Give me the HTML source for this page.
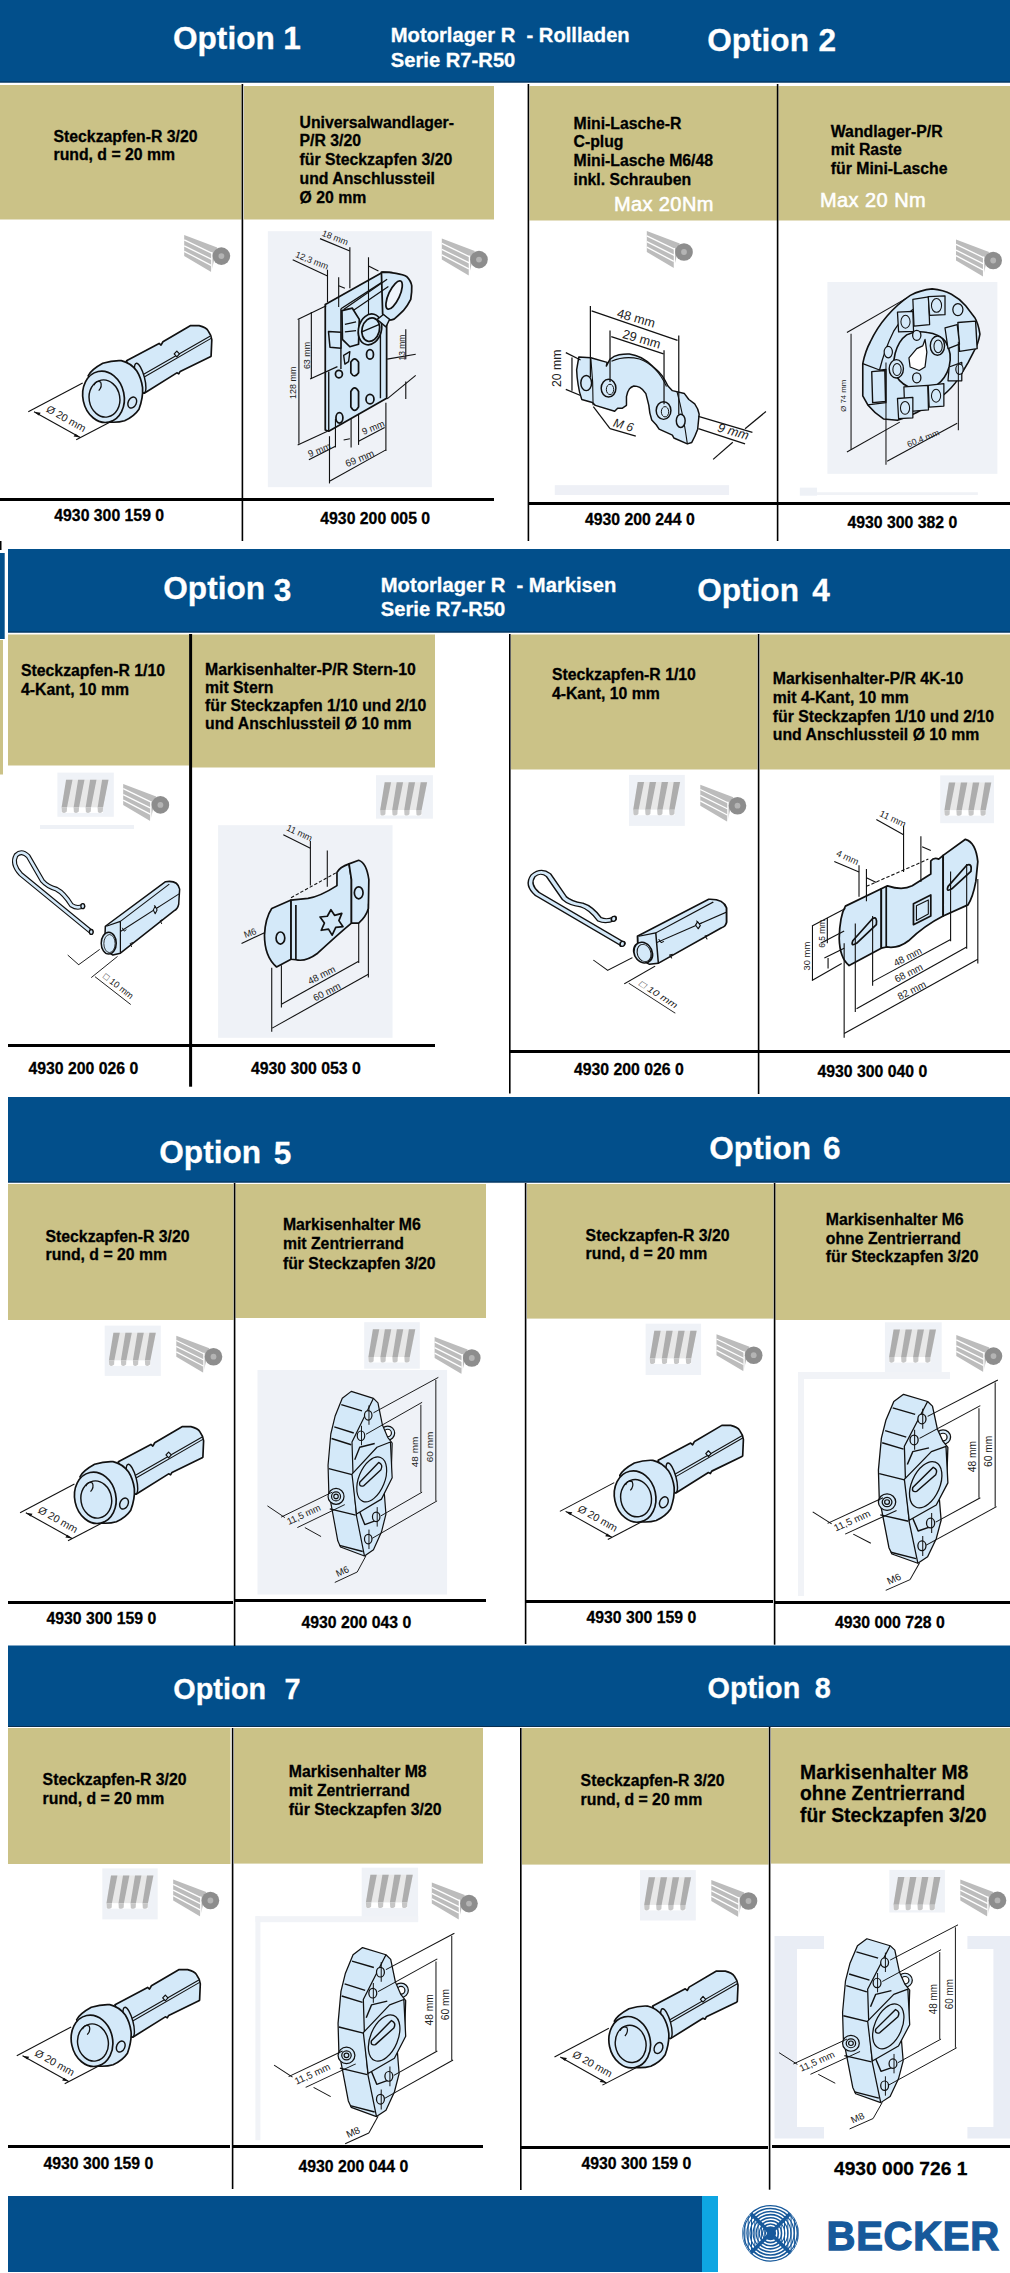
<!DOCTYPE html>
<html><head><meta charset="utf-8"><title>Motorlager R</title>
<style>
html,body{margin:0;padding:0;background:#fff;}
body{width:1010px;height:2273px;overflow:hidden;font-family:"Liberation Sans",sans-serif;}
svg{display:block;}
</style></head><body>
<svg width="1010" height="2273" viewBox="0 0 1010 2273">
<rect x="0" y="0" width="1010" height="2273" fill="#fff"/>
<rect x="0" y="0" width="1010" height="82.5" fill="#024f8b" />
<rect x="0" y="81.5" width="1010" height="1" fill="#072f52" />
<rect x="8" y="549" width="1002" height="83.5" fill="#024f8b" />
<rect x="8" y="631.5" width="1002" height="1" fill="#072f52" />
<rect x="0" y="553" width="4.7" height="86" fill="#024f8b" />
<rect x="0" y="541" width="1.5" height="9" fill="#000" />
<rect x="8" y="1097" width="1002" height="85.5" fill="#024f8b" />
<rect x="8" y="1181.5" width="1002" height="1" fill="#072f52" />
<rect x="8" y="1645.5" width="1002" height="81.5" fill="#024f8b" />
<rect x="8" y="1726.0" width="1002" height="1" fill="#072f52" />
<rect x="8" y="2196" width="694" height="76" fill="#034f8c" />
<rect x="702" y="2196" width="16" height="76" fill="#0ea6e2" />
<rect x="0" y="85" width="241.5" height="134.5" fill="#cbc287" />
<rect x="244" y="86" width="250" height="133.5" fill="#cbc287" />
<rect x="529.5" y="86" width="247.5" height="134.5" fill="#cbc287" />
<rect x="778.5" y="86" width="231.5" height="134.5" fill="#cbc287" />
<rect x="8" y="634.5" width="181" height="131.0" fill="#cbc287" />
<rect x="192" y="634.5" width="243" height="133.0" fill="#cbc287" />
<rect x="0" y="640" width="3" height="134.5" fill="#cbc287" />
<rect x="511" y="634.5" width="246.5" height="135.0" fill="#cbc287" />
<rect x="760" y="634.5" width="250" height="135.0" fill="#cbc287" />
<rect x="8" y="1184" width="225.5" height="136" fill="#cbc287" />
<rect x="235.5" y="1184" width="250.5" height="134" fill="#cbc287" />
<rect x="527" y="1184" width="246.5" height="134.5999999999999" fill="#cbc287" />
<rect x="775.5" y="1184" width="234.5" height="136" fill="#cbc287" />
<rect x="8" y="1728" width="222.5" height="136" fill="#cbc287" />
<rect x="234" y="1728" width="249" height="135.5999999999999" fill="#cbc287" />
<rect x="522" y="1728" width="246.5" height="136.5999999999999" fill="#cbc287" />
<rect x="771" y="1728" width="239" height="135.5999999999999" fill="#cbc287" />
<rect x="241.6" y="84" width="1.6" height="457" fill="#000" />
<rect x="527.6" y="84" width="1.6" height="457" fill="#000" />
<rect x="776.8000000000001" y="84" width="1.6" height="457" fill="#000" />
<rect x="0" y="498" width="494" height="3" fill="#000" />
<rect x="528" y="502" width="482" height="3" fill="#000" />
<rect x="189.1" y="634" width="3" height="452.70000000000005" fill="#000" />
<rect x="509.0" y="634" width="1.6" height="459.5" fill="#000" />
<rect x="757.8000000000001" y="634" width="1.6" height="460" fill="#000" />
<rect x="8" y="1044" width="427" height="3" fill="#000" />
<rect x="509.5" y="1050" width="500.5" height="3" fill="#000" />
<rect x="233.79999999999998" y="1183" width="1.6" height="463" fill="#000" />
<rect x="524.8000000000001" y="1183" width="1.6" height="461" fill="#000" />
<rect x="773.8000000000001" y="1183" width="1.6" height="461.70000000000005" fill="#000" />
<rect x="8" y="1601" width="225" height="3" fill="#000" />
<rect x="235" y="1599" width="251" height="3" fill="#000" />
<rect x="525.5" y="1600" width="247.5" height="3" fill="#000" />
<rect x="775" y="1601" width="235" height="3" fill="#000" />
<rect x="231.79999999999998" y="1728" width="1.6" height="461" fill="#000" />
<rect x="520.0" y="1728" width="1.6" height="462" fill="#000" />
<rect x="768.8000000000001" y="1727" width="1.6" height="462.6999999999998" fill="#000" />
<rect x="8" y="2145" width="222" height="3" fill="#000" />
<rect x="233" y="2145" width="250" height="3" fill="#000" />
<rect x="520.7" y="2146" width="247.29999999999995" height="3" fill="#000" />
<rect x="772" y="2145" width="238" height="3" fill="#000" />
<text x="173" y="48.8" font-family="Liberation Sans, sans-serif" font-size="31.6" font-weight="bold" fill="#ffffff" stroke="#ffffff" stroke-width="0.28" >Option</text>
<text x="283.3" y="48.8" font-family="Liberation Sans, sans-serif" font-size="31.6" font-weight="bold" fill="#ffffff" stroke="#ffffff" stroke-width="0.28" >1</text>
<text x="707.2" y="50.6" font-family="Liberation Sans, sans-serif" font-size="31.6" font-weight="bold" fill="#ffffff" stroke="#ffffff" stroke-width="0.28" >Option</text>
<text x="818.5" y="50.6" font-family="Liberation Sans, sans-serif" font-size="31.6" font-weight="bold" fill="#ffffff" stroke="#ffffff" stroke-width="0.28" >2</text>
<text x="163.3" y="599.3" font-family="Liberation Sans, sans-serif" font-size="31.6" font-weight="bold" fill="#ffffff" stroke="#ffffff" stroke-width="0.28" >Option</text>
<text x="273.7" y="600.5" font-family="Liberation Sans, sans-serif" font-size="31.6" font-weight="bold" fill="#ffffff" stroke="#ffffff" stroke-width="0.28" >3</text>
<text x="697.2" y="600.6" font-family="Liberation Sans, sans-serif" font-size="31.6" font-weight="bold" fill="#ffffff" stroke="#ffffff" stroke-width="0.28" >Option</text>
<text x="812.3" y="600.6" font-family="Liberation Sans, sans-serif" font-size="31.6" font-weight="bold" fill="#ffffff" stroke="#ffffff" stroke-width="0.28" >4</text>
<text x="159.3" y="1162.7" font-family="Liberation Sans, sans-serif" font-size="31.6" font-weight="bold" fill="#ffffff" stroke="#ffffff" stroke-width="0.28" >Option</text>
<text x="273.7" y="1163.8" font-family="Liberation Sans, sans-serif" font-size="31.6" font-weight="bold" fill="#ffffff" stroke="#ffffff" stroke-width="0.28" >5</text>
<text x="709.3" y="1158.5" font-family="Liberation Sans, sans-serif" font-size="31.6" font-weight="bold" fill="#ffffff" stroke="#ffffff" stroke-width="0.28" >Option</text>
<text x="822.9" y="1158.8" font-family="Liberation Sans, sans-serif" font-size="31.6" font-weight="bold" fill="#ffffff" stroke="#ffffff" stroke-width="0.28" >6</text>
<text x="173.3" y="1698.5" font-family="Liberation Sans, sans-serif" font-size="28.8" font-weight="bold" fill="#ffffff" stroke="#ffffff" stroke-width="0.28" >Option</text>
<text x="284.5" y="1698.5" font-family="Liberation Sans, sans-serif" font-size="28.8" font-weight="bold" fill="#ffffff" stroke="#ffffff" stroke-width="0.28" >7</text>
<text x="707.5" y="1698" font-family="Liberation Sans, sans-serif" font-size="28.8" font-weight="bold" fill="#ffffff" stroke="#ffffff" stroke-width="0.28" >Option</text>
<text x="814.7" y="1698" font-family="Liberation Sans, sans-serif" font-size="28.8" font-weight="bold" fill="#ffffff" stroke="#ffffff" stroke-width="0.28" >8</text>
<text x="390.8" y="42.0" font-family="Liberation Sans, sans-serif" font-size="20.2" font-weight="bold" fill="#ffffff" stroke="#ffffff" stroke-width="0.28" >Motorlager R &#160;- Rollladen</text>
<text x="390.8" y="66.5" font-family="Liberation Sans, sans-serif" font-size="20.2" font-weight="bold" fill="#ffffff" stroke="#ffffff" stroke-width="0.28" >Serie R7-R50</text>
<text x="380.8" y="592" font-family="Liberation Sans, sans-serif" font-size="20.2" font-weight="bold" fill="#ffffff" stroke="#ffffff" stroke-width="0.28" >Motorlager R &#160;- Markisen</text>
<text x="380.8" y="616" font-family="Liberation Sans, sans-serif" font-size="20.2" font-weight="bold" fill="#ffffff" stroke="#ffffff" stroke-width="0.28" >Serie R7-R50</text>
<text x="53.5" y="141.8" font-family="Liberation Sans, sans-serif" font-size="15.8" font-weight="bold" fill="#000" stroke="#000" stroke-width="0.28" >Steckzapfen-R 3/20</text>
<text x="53.5" y="160.3" font-family="Liberation Sans, sans-serif" font-size="15.8" font-weight="bold" fill="#000" stroke="#000" stroke-width="0.28" >rund, d = 20 mm</text>
<text x="299.5" y="127.6" font-family="Liberation Sans, sans-serif" font-size="15.8" font-weight="bold" fill="#000" stroke="#000" stroke-width="0.28" >Universalwandlager-</text>
<text x="299.5" y="146.4" font-family="Liberation Sans, sans-serif" font-size="15.8" font-weight="bold" fill="#000" stroke="#000" stroke-width="0.28" >P/R 3/20</text>
<text x="299.5" y="165.2" font-family="Liberation Sans, sans-serif" font-size="15.8" font-weight="bold" fill="#000" stroke="#000" stroke-width="0.28" >für Steckzapfen 3/20</text>
<text x="299.5" y="184.0" font-family="Liberation Sans, sans-serif" font-size="15.8" font-weight="bold" fill="#000" stroke="#000" stroke-width="0.28" >und Anschlussteil</text>
<text x="299.5" y="202.8" font-family="Liberation Sans, sans-serif" font-size="15.8" font-weight="bold" fill="#000" stroke="#000" stroke-width="0.28" >Ø 20 mm</text>
<text x="573.5" y="128.6" font-family="Liberation Sans, sans-serif" font-size="15.8" font-weight="bold" fill="#000" stroke="#000" stroke-width="0.28" >Mini-Lasche-R</text>
<text x="573.5" y="147.4" font-family="Liberation Sans, sans-serif" font-size="15.8" font-weight="bold" fill="#000" stroke="#000" stroke-width="0.28" >C-plug</text>
<text x="573.5" y="166.2" font-family="Liberation Sans, sans-serif" font-size="15.8" font-weight="bold" fill="#000" stroke="#000" stroke-width="0.28" >Mini-Lasche M6/48</text>
<text x="573.5" y="185.0" font-family="Liberation Sans, sans-serif" font-size="15.8" font-weight="bold" fill="#000" stroke="#000" stroke-width="0.28" >inkl. Schrauben</text>
<text x="613.9" y="210.9" font-family="Liberation Sans, sans-serif" font-size="20" font-weight="normal" fill="#ffffff"  letter-spacing="0.4" stroke="#fff" stroke-width="0.55">Max 20Nm</text>
<text x="830.8" y="136.5" font-family="Liberation Sans, sans-serif" font-size="15.8" font-weight="bold" fill="#000" stroke="#000" stroke-width="0.28" >Wandlager-P/R</text>
<text x="830.8" y="155.35" font-family="Liberation Sans, sans-serif" font-size="15.8" font-weight="bold" fill="#000" stroke="#000" stroke-width="0.28" >mit Raste</text>
<text x="830.8" y="174.2" font-family="Liberation Sans, sans-serif" font-size="15.8" font-weight="bold" fill="#000" stroke="#000" stroke-width="0.28" >für Mini-Lasche</text>
<text x="819.9" y="206.6" font-family="Liberation Sans, sans-serif" font-size="20" font-weight="normal" fill="#ffffff"  letter-spacing="0.45" stroke="#fff" stroke-width="0.55">Max 20 Nm</text>
<text x="21" y="675.8" font-family="Liberation Sans, sans-serif" font-size="15.8" font-weight="bold" fill="#000" stroke="#000" stroke-width="0.28" >Steckzapfen-R 1/10</text>
<text x="21" y="694.5" font-family="Liberation Sans, sans-serif" font-size="15.8" font-weight="bold" fill="#000" stroke="#000" stroke-width="0.28" >4-Kant, 10 mm</text>
<text x="205" y="675.3" font-family="Liberation Sans, sans-serif" font-size="15.8" font-weight="bold" fill="#000" stroke="#000" stroke-width="0.28" >Markisenhalter-P/R Stern-10</text>
<text x="205" y="693.3" font-family="Liberation Sans, sans-serif" font-size="15.8" font-weight="bold" fill="#000" stroke="#000" stroke-width="0.28" >mit Stern</text>
<text x="205" y="711.3" font-family="Liberation Sans, sans-serif" font-size="15.8" font-weight="bold" fill="#000" stroke="#000" stroke-width="0.28" >für Steckzapfen 1/10 und 2/10</text>
<text x="205" y="729.3" font-family="Liberation Sans, sans-serif" font-size="15.8" font-weight="bold" fill="#000" stroke="#000" stroke-width="0.28" >und Anschlussteil Ø 10 mm</text>
<text x="551.9" y="680.0" font-family="Liberation Sans, sans-serif" font-size="15.8" font-weight="bold" fill="#000" stroke="#000" stroke-width="0.28" >Steckzapfen-R 1/10</text>
<text x="551.9" y="699.0" font-family="Liberation Sans, sans-serif" font-size="15.8" font-weight="bold" fill="#000" stroke="#000" stroke-width="0.28" >4-Kant, 10 mm</text>
<text x="772.8" y="684.3" font-family="Liberation Sans, sans-serif" font-size="15.8" font-weight="bold" fill="#000" stroke="#000" stroke-width="0.28" >Markisenhalter-P/R 4K-10</text>
<text x="772.8" y="703.0" font-family="Liberation Sans, sans-serif" font-size="15.8" font-weight="bold" fill="#000" stroke="#000" stroke-width="0.28" >mit 4-Kant, 10 mm</text>
<text x="772.8" y="721.7" font-family="Liberation Sans, sans-serif" font-size="15.8" font-weight="bold" fill="#000" stroke="#000" stroke-width="0.28" >für Steckzapfen 1/10 und 2/10</text>
<text x="772.8" y="740.4" font-family="Liberation Sans, sans-serif" font-size="15.8" font-weight="bold" fill="#000" stroke="#000" stroke-width="0.28" >und Anschlussteil Ø 10 mm</text>
<text x="45.5" y="1241.5" font-family="Liberation Sans, sans-serif" font-size="15.8" font-weight="bold" fill="#000" stroke="#000" stroke-width="0.28" >Steckzapfen-R 3/20</text>
<text x="45.5" y="1260.4" font-family="Liberation Sans, sans-serif" font-size="15.8" font-weight="bold" fill="#000" stroke="#000" stroke-width="0.28" >rund, d = 20 mm</text>
<text x="282.9" y="1230.3" font-family="Liberation Sans, sans-serif" font-size="15.8" font-weight="bold" fill="#000" stroke="#000" stroke-width="0.28" >Markisenhalter M6</text>
<text x="282.9" y="1249.45" font-family="Liberation Sans, sans-serif" font-size="15.8" font-weight="bold" fill="#000" stroke="#000" stroke-width="0.28" >mit Zentrierrand</text>
<text x="282.9" y="1268.6" font-family="Liberation Sans, sans-serif" font-size="15.8" font-weight="bold" fill="#000" stroke="#000" stroke-width="0.28" >für Steckzapfen 3/20</text>
<text x="585.6" y="1240.6" font-family="Liberation Sans, sans-serif" font-size="15.8" font-weight="bold" fill="#000" stroke="#000" stroke-width="0.28" >Steckzapfen-R 3/20</text>
<text x="585.6" y="1259.4" font-family="Liberation Sans, sans-serif" font-size="15.8" font-weight="bold" fill="#000" stroke="#000" stroke-width="0.28" >rund, d = 20 mm</text>
<text x="825.8" y="1225.0" font-family="Liberation Sans, sans-serif" font-size="15.8" font-weight="bold" fill="#000" stroke="#000" stroke-width="0.28" >Markisenhalter M6</text>
<text x="825.8" y="1243.6" font-family="Liberation Sans, sans-serif" font-size="15.8" font-weight="bold" fill="#000" stroke="#000" stroke-width="0.28" >ohne Zentrierrand</text>
<text x="825.8" y="1262.2" font-family="Liberation Sans, sans-serif" font-size="15.8" font-weight="bold" fill="#000" stroke="#000" stroke-width="0.28" >für Steckzapfen 3/20</text>
<text x="42.6" y="1785.0" font-family="Liberation Sans, sans-serif" font-size="15.8" font-weight="bold" fill="#000" stroke="#000" stroke-width="0.28" >Steckzapfen-R 3/20</text>
<text x="42.6" y="1804.0" font-family="Liberation Sans, sans-serif" font-size="15.8" font-weight="bold" fill="#000" stroke="#000" stroke-width="0.28" >rund, d = 20 mm</text>
<text x="288.8" y="1777.2" font-family="Liberation Sans, sans-serif" font-size="15.8" font-weight="bold" fill="#000" stroke="#000" stroke-width="0.28" >Markisenhalter M8</text>
<text x="288.8" y="1796.25" font-family="Liberation Sans, sans-serif" font-size="15.8" font-weight="bold" fill="#000" stroke="#000" stroke-width="0.28" >mit Zentrierrand</text>
<text x="288.8" y="1815.3" font-family="Liberation Sans, sans-serif" font-size="15.8" font-weight="bold" fill="#000" stroke="#000" stroke-width="0.28" >für Steckzapfen 3/20</text>
<text x="580.6" y="1786.1" font-family="Liberation Sans, sans-serif" font-size="15.8" font-weight="bold" fill="#000" stroke="#000" stroke-width="0.28" >Steckzapfen-R 3/20</text>
<text x="580.6" y="1804.8" font-family="Liberation Sans, sans-serif" font-size="15.8" font-weight="bold" fill="#000" stroke="#000" stroke-width="0.28" >rund, d = 20 mm</text>
<text x="800.1" y="1778.6" font-family="Liberation Sans, sans-serif" font-size="19.3" font-weight="bold" fill="#000" stroke="#000" stroke-width="0.28" >Markisenhalter M8</text>
<text x="800.1" y="1800.35" font-family="Liberation Sans, sans-serif" font-size="19.3" font-weight="bold" fill="#000" stroke="#000" stroke-width="0.28" >ohne Zentrierrand</text>
<text x="800.1" y="1822.1" font-family="Liberation Sans, sans-serif" font-size="19.3" font-weight="bold" fill="#000" stroke="#000" stroke-width="0.28" >für Steckzapfen 3/20</text>
<text x="54.3" y="520.6" font-family="Liberation Sans, sans-serif" font-size="15.8" font-weight="bold" fill="#000" stroke="#000" stroke-width="0.28" >4930 300 159 0</text>
<text x="320.3" y="523.5" font-family="Liberation Sans, sans-serif" font-size="15.8" font-weight="bold" fill="#000" stroke="#000" stroke-width="0.28" >4930 200 005 0</text>
<text x="585" y="525" font-family="Liberation Sans, sans-serif" font-size="15.8" font-weight="bold" fill="#000" stroke="#000" stroke-width="0.28" >4930 200 244 0</text>
<text x="847.5" y="527.5" font-family="Liberation Sans, sans-serif" font-size="15.8" font-weight="bold" fill="#000" stroke="#000" stroke-width="0.28" >4930 300 382 0</text>
<text x="28.5" y="1073.5" font-family="Liberation Sans, sans-serif" font-size="15.8" font-weight="bold" fill="#000" stroke="#000" stroke-width="0.28" >4930 200 026 0</text>
<text x="251" y="1073.5" font-family="Liberation Sans, sans-serif" font-size="15.8" font-weight="bold" fill="#000" stroke="#000" stroke-width="0.28" >4930 300 053 0</text>
<text x="574" y="1075" font-family="Liberation Sans, sans-serif" font-size="15.8" font-weight="bold" fill="#000" stroke="#000" stroke-width="0.28" >4930 200 026 0</text>
<text x="817.5" y="1076.5" font-family="Liberation Sans, sans-serif" font-size="15.8" font-weight="bold" fill="#000" stroke="#000" stroke-width="0.28" >4930 300 040 0</text>
<text x="46.5" y="1624" font-family="Liberation Sans, sans-serif" font-size="15.8" font-weight="bold" fill="#000" stroke="#000" stroke-width="0.28" >4930 300 159 0</text>
<text x="301.5" y="1627.5" font-family="Liberation Sans, sans-serif" font-size="15.8" font-weight="bold" fill="#000" stroke="#000" stroke-width="0.28" >4930 200 043 0</text>
<text x="586.5" y="1623" font-family="Liberation Sans, sans-serif" font-size="15.8" font-weight="bold" fill="#000" stroke="#000" stroke-width="0.28" >4930 300 159 0</text>
<text x="835" y="1627.5" font-family="Liberation Sans, sans-serif" font-size="15.8" font-weight="bold" fill="#000" stroke="#000" stroke-width="0.28" >4930 000 728 0</text>
<text x="43.5" y="2168.5" font-family="Liberation Sans, sans-serif" font-size="15.8" font-weight="bold" fill="#000" stroke="#000" stroke-width="0.28" >4930 300 159 0</text>
<text x="298.5" y="2171.5" font-family="Liberation Sans, sans-serif" font-size="15.8" font-weight="bold" fill="#000" stroke="#000" stroke-width="0.28" >4930 200 044 0</text>
<text x="581.5" y="2169" font-family="Liberation Sans, sans-serif" font-size="15.8" font-weight="bold" fill="#000" stroke="#000" stroke-width="0.28" >4930 300 159 0</text>
<text x="834" y="2175" font-family="Liberation Sans, sans-serif" font-size="19.2" font-weight="bold" fill="#000" stroke="#000" stroke-width="0.28" >4930 000 726 1</text>
<text x="826.5" y="2249.6" font-family="Liberation Sans, sans-serif" font-size="40" font-weight="bold" fill="#17599b"  stroke="#17599b" stroke-width="1.3" letter-spacing="0.75">BECKER</text>
<g transform="translate(184.2,235.1)">
<polygon points="0,0 33,12.5 27,37 0,21" fill="#bcbcbc"/>
<g stroke="#fff" stroke-width="1.3">
<line x1="0" y1="4.8" x2="28" y2="18.3"/><line x1="0" y1="10.7" x2="27.5" y2="24.3"/><line x1="0" y1="16.2" x2="27" y2="30.3"/>
<line x1="27.6" y1="17" x2="27.6" y2="38"/></g>
<circle cx="37.2" cy="21" r="8.8" fill="#8d8d8d"/><circle cx="37.2" cy="21" r="2.9" fill="#b4b4b4"/>
</g>
<g transform="translate(441.8,238.6)">
<polygon points="0,0 33,12.5 27,37 0,21" fill="#bcbcbc"/>
<g stroke="#fff" stroke-width="1.3">
<line x1="0" y1="4.8" x2="28" y2="18.3"/><line x1="0" y1="10.7" x2="27.5" y2="24.3"/><line x1="0" y1="16.2" x2="27" y2="30.3"/>
<line x1="27.6" y1="17" x2="27.6" y2="38"/></g>
<circle cx="37.2" cy="21" r="8.8" fill="#8d8d8d"/><circle cx="37.2" cy="21" r="2.9" fill="#b4b4b4"/>
</g>
<g transform="translate(646.8,231)">
<polygon points="0,0 33,12.5 27,37 0,21" fill="#bcbcbc"/>
<g stroke="#fff" stroke-width="1.3">
<line x1="0" y1="4.8" x2="28" y2="18.3"/><line x1="0" y1="10.7" x2="27.5" y2="24.3"/><line x1="0" y1="16.2" x2="27" y2="30.3"/>
<line x1="27.6" y1="17" x2="27.6" y2="38"/></g>
<circle cx="37.2" cy="21" r="8.8" fill="#8d8d8d"/><circle cx="37.2" cy="21" r="2.9" fill="#b4b4b4"/>
</g>
<g transform="translate(956,239.5)">
<polygon points="0,0 33,12.5 27,37 0,21" fill="#bcbcbc"/>
<g stroke="#fff" stroke-width="1.3">
<line x1="0" y1="4.8" x2="28" y2="18.3"/><line x1="0" y1="10.7" x2="27.5" y2="24.3"/><line x1="0" y1="16.2" x2="27" y2="30.3"/>
<line x1="27.6" y1="17" x2="27.6" y2="38"/></g>
<circle cx="37.2" cy="21" r="8.8" fill="#8d8d8d"/><circle cx="37.2" cy="21" r="2.9" fill="#b4b4b4"/>
</g>
<g transform="translate(123.2,783.9)">
<polygon points="0,0 33,12.5 27,37 0,21" fill="#bcbcbc"/>
<g stroke="#fff" stroke-width="1.3">
<line x1="0" y1="4.8" x2="28" y2="18.3"/><line x1="0" y1="10.7" x2="27.5" y2="24.3"/><line x1="0" y1="16.2" x2="27" y2="30.3"/>
<line x1="27.6" y1="17" x2="27.6" y2="38"/></g>
<circle cx="37.2" cy="21" r="8.8" fill="#8d8d8d"/><circle cx="37.2" cy="21" r="2.9" fill="#b4b4b4"/>
</g>
<g transform="translate(700.3,784.7)">
<polygon points="0,0 33,12.5 27,37 0,21" fill="#bcbcbc"/>
<g stroke="#fff" stroke-width="1.3">
<line x1="0" y1="4.8" x2="28" y2="18.3"/><line x1="0" y1="10.7" x2="27.5" y2="24.3"/><line x1="0" y1="16.2" x2="27" y2="30.3"/>
<line x1="27.6" y1="17" x2="27.6" y2="38"/></g>
<circle cx="37.2" cy="21" r="8.8" fill="#8d8d8d"/><circle cx="37.2" cy="21" r="2.9" fill="#b4b4b4"/>
</g>
<g transform="translate(176.3,1335.7)">
<polygon points="0,0 33,12.5 27,37 0,21" fill="#bcbcbc"/>
<g stroke="#fff" stroke-width="1.3">
<line x1="0" y1="4.8" x2="28" y2="18.3"/><line x1="0" y1="10.7" x2="27.5" y2="24.3"/><line x1="0" y1="16.2" x2="27" y2="30.3"/>
<line x1="27.6" y1="17" x2="27.6" y2="38"/></g>
<circle cx="37.2" cy="21" r="8.8" fill="#8d8d8d"/><circle cx="37.2" cy="21" r="2.9" fill="#b4b4b4"/>
</g>
<g transform="translate(434.6,1337)">
<polygon points="0,0 33,12.5 27,37 0,21" fill="#bcbcbc"/>
<g stroke="#fff" stroke-width="1.3">
<line x1="0" y1="4.8" x2="28" y2="18.3"/><line x1="0" y1="10.7" x2="27.5" y2="24.3"/><line x1="0" y1="16.2" x2="27" y2="30.3"/>
<line x1="27.6" y1="17" x2="27.6" y2="38"/></g>
<circle cx="37.2" cy="21" r="8.8" fill="#8d8d8d"/><circle cx="37.2" cy="21" r="2.9" fill="#b4b4b4"/>
</g>
<g transform="translate(716.5,1334.2)">
<polygon points="0,0 33,12.5 27,37 0,21" fill="#bcbcbc"/>
<g stroke="#fff" stroke-width="1.3">
<line x1="0" y1="4.8" x2="28" y2="18.3"/><line x1="0" y1="10.7" x2="27.5" y2="24.3"/><line x1="0" y1="16.2" x2="27" y2="30.3"/>
<line x1="27.6" y1="17" x2="27.6" y2="38"/></g>
<circle cx="37.2" cy="21" r="8.8" fill="#8d8d8d"/><circle cx="37.2" cy="21" r="2.9" fill="#b4b4b4"/>
</g>
<g transform="translate(956.3,1335.1)">
<polygon points="0,0 33,12.5 27,37 0,21" fill="#bcbcbc"/>
<g stroke="#fff" stroke-width="1.3">
<line x1="0" y1="4.8" x2="28" y2="18.3"/><line x1="0" y1="10.7" x2="27.5" y2="24.3"/><line x1="0" y1="16.2" x2="27" y2="30.3"/>
<line x1="27.6" y1="17" x2="27.6" y2="38"/></g>
<circle cx="37.2" cy="21" r="8.8" fill="#8d8d8d"/><circle cx="37.2" cy="21" r="2.9" fill="#b4b4b4"/>
</g>
<g transform="translate(173.2,1879.5)">
<polygon points="0,0 33,12.5 27,37 0,21" fill="#bcbcbc"/>
<g stroke="#fff" stroke-width="1.3">
<line x1="0" y1="4.8" x2="28" y2="18.3"/><line x1="0" y1="10.7" x2="27.5" y2="24.3"/><line x1="0" y1="16.2" x2="27" y2="30.3"/>
<line x1="27.6" y1="17" x2="27.6" y2="38"/></g>
<circle cx="37.2" cy="21" r="8.8" fill="#8d8d8d"/><circle cx="37.2" cy="21" r="2.9" fill="#b4b4b4"/>
</g>
<g transform="translate(431.8,1882.6)">
<polygon points="0,0 33,12.5 27,37 0,21" fill="#bcbcbc"/>
<g stroke="#fff" stroke-width="1.3">
<line x1="0" y1="4.8" x2="28" y2="18.3"/><line x1="0" y1="10.7" x2="27.5" y2="24.3"/><line x1="0" y1="16.2" x2="27" y2="30.3"/>
<line x1="27.6" y1="17" x2="27.6" y2="38"/></g>
<circle cx="37.2" cy="21" r="8.8" fill="#8d8d8d"/><circle cx="37.2" cy="21" r="2.9" fill="#b4b4b4"/>
</g>
<g transform="translate(711.3,1880)">
<polygon points="0,0 33,12.5 27,37 0,21" fill="#bcbcbc"/>
<g stroke="#fff" stroke-width="1.3">
<line x1="0" y1="4.8" x2="28" y2="18.3"/><line x1="0" y1="10.7" x2="27.5" y2="24.3"/><line x1="0" y1="16.2" x2="27" y2="30.3"/>
<line x1="27.6" y1="17" x2="27.6" y2="38"/></g>
<circle cx="37.2" cy="21" r="8.8" fill="#8d8d8d"/><circle cx="37.2" cy="21" r="2.9" fill="#b4b4b4"/>
</g>
<g transform="translate(960.3,1879.4)">
<polygon points="0,0 33,12.5 27,37 0,21" fill="#bcbcbc"/>
<g stroke="#fff" stroke-width="1.3">
<line x1="0" y1="4.8" x2="28" y2="18.3"/><line x1="0" y1="10.7" x2="27.5" y2="24.3"/><line x1="0" y1="16.2" x2="27" y2="30.3"/>
<line x1="27.6" y1="17" x2="27.6" y2="38"/></g>
<circle cx="37.2" cy="21" r="8.8" fill="#8d8d8d"/><circle cx="37.2" cy="21" r="2.9" fill="#b4b4b4"/>
</g>
<g transform="translate(57.4,772.6)"><rect x="0" y="0" width="56.4" height="44.2" fill="#eff2f7"/><polygon points="8.7,7.1 51.1,7.1 45.6,34.8 4.2,34.8" fill="#e8e8e8"/><rect x="4.2" y="34.8" width="41.4" height="5.5" fill="#fff"/><polygon points="8.7,7.1 15.1,7.1 9.6,34.8 4.2,34.8" fill="#adadad"/><path d="M4.2,34.8 L9.6,34.8 L9.4,39 Q7,41.5 4.5,39.5 Z" fill="#c6c6c6"/><polygon points="20.7,7.1 27.1,7.1 21.6,34.8 16.2,34.8" fill="#adadad"/><path d="M16.2,34.8 L21.6,34.8 L21.4,39 Q19,41.5 16.5,39.5 Z" fill="#c6c6c6"/><polygon points="32.7,7.1 39.1,7.1 33.6,34.8 28.2,34.8" fill="#adadad"/><path d="M28.2,34.8 L33.6,34.8 L33.4,39 Q31,41.5 28.5,39.5 Z" fill="#c6c6c6"/><polygon points="44.7,7.1 51.1,7.1 45.6,34.8 40.2,34.8" fill="#adadad"/><path d="M40.2,34.8 L45.6,34.8 L45.4,39 Q43,41.5 40.5,39.5 Z" fill="#c6c6c6"/></g>
<g transform="translate(376,775.2)"><rect x="0" y="0" width="56.9" height="43.5" fill="#eff2f7"/><polygon points="8.7,7.1 51.1,7.1 45.6,34.8 4.2,34.8" fill="#e8e8e8"/><rect x="4.2" y="34.8" width="41.4" height="5.5" fill="#fff"/><polygon points="8.7,7.1 15.1,7.1 9.6,34.8 4.2,34.8" fill="#adadad"/><path d="M4.2,34.8 L9.6,34.8 L9.4,39 Q7,41.5 4.5,39.5 Z" fill="#c6c6c6"/><polygon points="20.7,7.1 27.1,7.1 21.6,34.8 16.2,34.8" fill="#adadad"/><path d="M16.2,34.8 L21.6,34.8 L21.4,39 Q19,41.5 16.5,39.5 Z" fill="#c6c6c6"/><polygon points="32.7,7.1 39.1,7.1 33.6,34.8 28.2,34.8" fill="#adadad"/><path d="M28.2,34.8 L33.6,34.8 L33.4,39 Q31,41.5 28.5,39.5 Z" fill="#c6c6c6"/><polygon points="44.7,7.1 51.1,7.1 45.6,34.8 40.2,34.8" fill="#adadad"/><path d="M40.2,34.8 L45.6,34.8 L45.4,39 Q43,41.5 40.5,39.5 Z" fill="#c6c6c6"/></g>
<g transform="translate(629,774.9)"><rect x="0" y="0" width="55.8" height="51" fill="#eff2f7"/><polygon points="8.7,7.1 51.1,7.1 45.6,34.8 4.2,34.8" fill="#e8e8e8"/><rect x="4.2" y="34.8" width="41.4" height="5.5" fill="#fff"/><polygon points="8.7,7.1 15.1,7.1 9.6,34.8 4.2,34.8" fill="#adadad"/><path d="M4.2,34.8 L9.6,34.8 L9.4,39 Q7,41.5 4.5,39.5 Z" fill="#c6c6c6"/><polygon points="20.7,7.1 27.1,7.1 21.6,34.8 16.2,34.8" fill="#adadad"/><path d="M16.2,34.8 L21.6,34.8 L21.4,39 Q19,41.5 16.5,39.5 Z" fill="#c6c6c6"/><polygon points="32.7,7.1 39.1,7.1 33.6,34.8 28.2,34.8" fill="#adadad"/><path d="M28.2,34.8 L33.6,34.8 L33.4,39 Q31,41.5 28.5,39.5 Z" fill="#c6c6c6"/><polygon points="44.7,7.1 51.1,7.1 45.6,34.8 40.2,34.8" fill="#adadad"/><path d="M40.2,34.8 L45.6,34.8 L45.4,39 Q43,41.5 40.5,39.5 Z" fill="#c6c6c6"/></g>
<g transform="translate(940.2,775.4)"><rect x="0" y="0" width="53.8" height="47.8" fill="#eff2f7"/><polygon points="8.7,7.1 51.1,7.1 45.6,34.8 4.2,34.8" fill="#e8e8e8"/><rect x="4.2" y="34.8" width="41.4" height="5.5" fill="#fff"/><polygon points="8.7,7.1 15.1,7.1 9.6,34.8 4.2,34.8" fill="#adadad"/><path d="M4.2,34.8 L9.6,34.8 L9.4,39 Q7,41.5 4.5,39.5 Z" fill="#c6c6c6"/><polygon points="20.7,7.1 27.1,7.1 21.6,34.8 16.2,34.8" fill="#adadad"/><path d="M16.2,34.8 L21.6,34.8 L21.4,39 Q19,41.5 16.5,39.5 Z" fill="#c6c6c6"/><polygon points="32.7,7.1 39.1,7.1 33.6,34.8 28.2,34.8" fill="#adadad"/><path d="M28.2,34.8 L33.6,34.8 L33.4,39 Q31,41.5 28.5,39.5 Z" fill="#c6c6c6"/><polygon points="44.7,7.1 51.1,7.1 45.6,34.8 40.2,34.8" fill="#adadad"/><path d="M40.2,34.8 L45.6,34.8 L45.4,39 Q43,41.5 40.5,39.5 Z" fill="#c6c6c6"/></g>
<g transform="translate(104.7,1325.6)"><rect x="0" y="0" width="56.1" height="50.3" fill="#eff2f7"/><polygon points="8.7,7.1 51.1,7.1 45.6,34.8 4.2,34.8" fill="#e8e8e8"/><rect x="4.2" y="34.8" width="41.4" height="5.5" fill="#fff"/><polygon points="8.7,7.1 15.1,7.1 9.6,34.8 4.2,34.8" fill="#adadad"/><path d="M4.2,34.8 L9.6,34.8 L9.4,39 Q7,41.5 4.5,39.5 Z" fill="#c6c6c6"/><polygon points="20.7,7.1 27.1,7.1 21.6,34.8 16.2,34.8" fill="#adadad"/><path d="M16.2,34.8 L21.6,34.8 L21.4,39 Q19,41.5 16.5,39.5 Z" fill="#c6c6c6"/><polygon points="32.7,7.1 39.1,7.1 33.6,34.8 28.2,34.8" fill="#adadad"/><path d="M28.2,34.8 L33.6,34.8 L33.4,39 Q31,41.5 28.5,39.5 Z" fill="#c6c6c6"/><polygon points="44.7,7.1 51.1,7.1 45.6,34.8 40.2,34.8" fill="#adadad"/><path d="M40.2,34.8 L45.6,34.8 L45.4,39 Q43,41.5 40.5,39.5 Z" fill="#c6c6c6"/></g>
<g transform="translate(364.2,1322.2)"><rect x="0" y="0" width="55.6" height="46.5" fill="#eff2f7"/><polygon points="8.7,7.1 51.1,7.1 45.6,34.8 4.2,34.8" fill="#e8e8e8"/><rect x="4.2" y="34.8" width="41.4" height="5.5" fill="#fff"/><polygon points="8.7,7.1 15.1,7.1 9.6,34.8 4.2,34.8" fill="#adadad"/><path d="M4.2,34.8 L9.6,34.8 L9.4,39 Q7,41.5 4.5,39.5 Z" fill="#c6c6c6"/><polygon points="20.7,7.1 27.1,7.1 21.6,34.8 16.2,34.8" fill="#adadad"/><path d="M16.2,34.8 L21.6,34.8 L21.4,39 Q19,41.5 16.5,39.5 Z" fill="#c6c6c6"/><polygon points="32.7,7.1 39.1,7.1 33.6,34.8 28.2,34.8" fill="#adadad"/><path d="M28.2,34.8 L33.6,34.8 L33.4,39 Q31,41.5 28.5,39.5 Z" fill="#c6c6c6"/><polygon points="44.7,7.1 51.1,7.1 45.6,34.8 40.2,34.8" fill="#adadad"/><path d="M40.2,34.8 L45.6,34.8 L45.4,39 Q43,41.5 40.5,39.5 Z" fill="#c6c6c6"/></g>
<g transform="translate(645.6,1323.7)"><rect x="0" y="0" width="55.5" height="51.3" fill="#eff2f7"/><polygon points="8.7,7.1 51.1,7.1 45.6,34.8 4.2,34.8" fill="#e8e8e8"/><rect x="4.2" y="34.8" width="41.4" height="5.5" fill="#fff"/><polygon points="8.7,7.1 15.1,7.1 9.6,34.8 4.2,34.8" fill="#adadad"/><path d="M4.2,34.8 L9.6,34.8 L9.4,39 Q7,41.5 4.5,39.5 Z" fill="#c6c6c6"/><polygon points="20.7,7.1 27.1,7.1 21.6,34.8 16.2,34.8" fill="#adadad"/><path d="M16.2,34.8 L21.6,34.8 L21.4,39 Q19,41.5 16.5,39.5 Z" fill="#c6c6c6"/><polygon points="32.7,7.1 39.1,7.1 33.6,34.8 28.2,34.8" fill="#adadad"/><path d="M28.2,34.8 L33.6,34.8 L33.4,39 Q31,41.5 28.5,39.5 Z" fill="#c6c6c6"/><polygon points="44.7,7.1 51.1,7.1 45.6,34.8 40.2,34.8" fill="#adadad"/><path d="M40.2,34.8 L45.6,34.8 L45.4,39 Q43,41.5 40.5,39.5 Z" fill="#c6c6c6"/></g>
<g transform="translate(884.9,1322.3)"><rect x="0" y="0" width="56.8" height="51" fill="#eff2f7"/><polygon points="8.7,7.1 51.1,7.1 45.6,34.8 4.2,34.8" fill="#e8e8e8"/><rect x="4.2" y="34.8" width="41.4" height="5.5" fill="#fff"/><polygon points="8.7,7.1 15.1,7.1 9.6,34.8 4.2,34.8" fill="#adadad"/><path d="M4.2,34.8 L9.6,34.8 L9.4,39 Q7,41.5 4.5,39.5 Z" fill="#c6c6c6"/><polygon points="20.7,7.1 27.1,7.1 21.6,34.8 16.2,34.8" fill="#adadad"/><path d="M16.2,34.8 L21.6,34.8 L21.4,39 Q19,41.5 16.5,39.5 Z" fill="#c6c6c6"/><polygon points="32.7,7.1 39.1,7.1 33.6,34.8 28.2,34.8" fill="#adadad"/><path d="M28.2,34.8 L33.6,34.8 L33.4,39 Q31,41.5 28.5,39.5 Z" fill="#c6c6c6"/><polygon points="44.7,7.1 51.1,7.1 45.6,34.8 40.2,34.8" fill="#adadad"/><path d="M40.2,34.8 L45.6,34.8 L45.4,39 Q43,41.5 40.5,39.5 Z" fill="#c6c6c6"/></g>
<g transform="translate(102.3,1868.4)"><rect x="0" y="0" width="55.4" height="51" fill="#eff2f7"/><polygon points="8.7,7.1 51.1,7.1 45.6,34.8 4.2,34.8" fill="#e8e8e8"/><rect x="4.2" y="34.8" width="41.4" height="5.5" fill="#fff"/><polygon points="8.7,7.1 15.1,7.1 9.6,34.8 4.2,34.8" fill="#adadad"/><path d="M4.2,34.8 L9.6,34.8 L9.4,39 Q7,41.5 4.5,39.5 Z" fill="#c6c6c6"/><polygon points="20.7,7.1 27.1,7.1 21.6,34.8 16.2,34.8" fill="#adadad"/><path d="M16.2,34.8 L21.6,34.8 L21.4,39 Q19,41.5 16.5,39.5 Z" fill="#c6c6c6"/><polygon points="32.7,7.1 39.1,7.1 33.6,34.8 28.2,34.8" fill="#adadad"/><path d="M28.2,34.8 L33.6,34.8 L33.4,39 Q31,41.5 28.5,39.5 Z" fill="#c6c6c6"/><polygon points="44.7,7.1 51.1,7.1 45.6,34.8 40.2,34.8" fill="#adadad"/><path d="M40.2,34.8 L45.6,34.8 L45.4,39 Q43,41.5 40.5,39.5 Z" fill="#c6c6c6"/></g>
<g transform="translate(361.7,1867.7)"><rect x="0" y="0" width="56.4" height="53.5" fill="#eff2f7"/><polygon points="8.7,7.1 51.1,7.1 45.6,34.8 4.2,34.8" fill="#e8e8e8"/><rect x="4.2" y="34.8" width="41.4" height="5.5" fill="#fff"/><polygon points="8.7,7.1 15.1,7.1 9.6,34.8 4.2,34.8" fill="#adadad"/><path d="M4.2,34.8 L9.6,34.8 L9.4,39 Q7,41.5 4.5,39.5 Z" fill="#c6c6c6"/><polygon points="20.7,7.1 27.1,7.1 21.6,34.8 16.2,34.8" fill="#adadad"/><path d="M16.2,34.8 L21.6,34.8 L21.4,39 Q19,41.5 16.5,39.5 Z" fill="#c6c6c6"/><polygon points="32.7,7.1 39.1,7.1 33.6,34.8 28.2,34.8" fill="#adadad"/><path d="M28.2,34.8 L33.6,34.8 L33.4,39 Q31,41.5 28.5,39.5 Z" fill="#c6c6c6"/><polygon points="44.7,7.1 51.1,7.1 45.6,34.8 40.2,34.8" fill="#adadad"/><path d="M40.2,34.8 L45.6,34.8 L45.4,39 Q43,41.5 40.5,39.5 Z" fill="#c6c6c6"/></g>
<g transform="translate(640,1870.1)"><rect x="0" y="0" width="55.8" height="50.4" fill="#eff2f7"/><polygon points="8.7,7.1 51.1,7.1 45.6,34.8 4.2,34.8" fill="#e8e8e8"/><rect x="4.2" y="34.8" width="41.4" height="5.5" fill="#fff"/><polygon points="8.7,7.1 15.1,7.1 9.6,34.8 4.2,34.8" fill="#adadad"/><path d="M4.2,34.8 L9.6,34.8 L9.4,39 Q7,41.5 4.5,39.5 Z" fill="#c6c6c6"/><polygon points="20.7,7.1 27.1,7.1 21.6,34.8 16.2,34.8" fill="#adadad"/><path d="M16.2,34.8 L21.6,34.8 L21.4,39 Q19,41.5 16.5,39.5 Z" fill="#c6c6c6"/><polygon points="32.7,7.1 39.1,7.1 33.6,34.8 28.2,34.8" fill="#adadad"/><path d="M28.2,34.8 L33.6,34.8 L33.4,39 Q31,41.5 28.5,39.5 Z" fill="#c6c6c6"/><polygon points="44.7,7.1 51.1,7.1 45.6,34.8 40.2,34.8" fill="#adadad"/><path d="M40.2,34.8 L45.6,34.8 L45.4,39 Q43,41.5 40.5,39.5 Z" fill="#c6c6c6"/></g>
<g transform="translate(889.3,1869.9)"><rect x="0" y="0" width="55.6" height="42.6" fill="#eff2f7"/><polygon points="8.7,7.1 51.1,7.1 45.6,34.8 4.2,34.8" fill="#e8e8e8"/><rect x="4.2" y="34.8" width="41.4" height="5.5" fill="#fff"/><polygon points="8.7,7.1 15.1,7.1 9.6,34.8 4.2,34.8" fill="#adadad"/><path d="M4.2,34.8 L9.6,34.8 L9.4,39 Q7,41.5 4.5,39.5 Z" fill="#c6c6c6"/><polygon points="20.7,7.1 27.1,7.1 21.6,34.8 16.2,34.8" fill="#adadad"/><path d="M16.2,34.8 L21.6,34.8 L21.4,39 Q19,41.5 16.5,39.5 Z" fill="#c6c6c6"/><polygon points="32.7,7.1 39.1,7.1 33.6,34.8 28.2,34.8" fill="#adadad"/><path d="M28.2,34.8 L33.6,34.8 L33.4,39 Q31,41.5 28.5,39.5 Z" fill="#c6c6c6"/><polygon points="44.7,7.1 51.1,7.1 45.6,34.8 40.2,34.8" fill="#adadad"/><path d="M40.2,34.8 L45.6,34.8 L45.4,39 Q43,41.5 40.5,39.5 Z" fill="#c6c6c6"/></g>
<g transform="translate(0,220) scale(0.23960)">
<g stroke="#111" stroke-width="7" stroke-linejoin="round" fill="#d4e9f9">
<path d="M528,587 L664,515 L672,522 L680,508 L794,441 L831,441 Q860,448 869,463 Q882,480 884,500 L881,568 L878,571 L752,632 L746,642 L738,638 L602,723 L560,700 Z"/>
<path d="M596,646 L878,484 M602,655 L881,494" fill="none" stroke-width="4.5"/>
<path d="M727,559 l11,-12 l11,12 l-11,12 Z" stroke-width="5"/>
<ellipse cx="585" cy="660" rx="18" ry="64" transform="rotate(-15 585 660)" stroke-width="6"/>
<path d="M368,650 Q380,625 429,598 Q470,585 506,587 Q545,596 571,630 Q590,660 595,700 Q598,740 580,790 Q560,820 520,838 Q490,847 451,843 Z"/>
<ellipse cx="432" cy="738" rx="86" ry="108" transform="rotate(-12 432 738)"/>
<ellipse cx="436" cy="745" rx="64" ry="78" transform="rotate(-10 436 745)" stroke-width="6"/>
<path d="M392,690 Q400,668 420,676 Q428,695 412,712" fill="none" stroke-width="5"/>
<ellipse cx="552" cy="762" rx="17" ry="24" transform="rotate(25 552 762)" stroke-width="6"/>
</g>
<g stroke="#111" stroke-width="4.5" fill="none">
<line x1="118" y1="800" x2="345" y2="680"/>
<line x1="318" y1="917" x2="470" y2="838"/>
<line x1="142" y1="800" x2="335" y2="908"/>
</g>
<path d="M142,800 l28,4 l-8,12 Z M335,908 l-28,-4 l8,-12 Z" fill="#111"/>
<text x="0" y="0" font-family="Liberation Sans, sans-serif" font-size="44" fill="#222" transform="translate(190,798) rotate(29)">Ø 20 mm</text>
</g>
<g transform="translate(-8.2,1321) scale(0.23960)">
<g stroke="#111" stroke-width="7" stroke-linejoin="round" fill="#d4e9f9">
<path d="M528,587 L664,515 L672,522 L680,508 L794,441 L831,441 Q860,448 869,463 Q882,480 884,500 L881,568 L878,571 L752,632 L746,642 L738,638 L602,723 L560,700 Z"/>
<path d="M596,646 L878,484 M602,655 L881,494" fill="none" stroke-width="4.5"/>
<path d="M727,559 l11,-12 l11,12 l-11,12 Z" stroke-width="5"/>
<ellipse cx="585" cy="660" rx="18" ry="64" transform="rotate(-15 585 660)" stroke-width="6"/>
<path d="M368,650 Q380,625 429,598 Q470,585 506,587 Q545,596 571,630 Q590,660 595,700 Q598,740 580,790 Q560,820 520,838 Q490,847 451,843 Z"/>
<ellipse cx="432" cy="738" rx="86" ry="108" transform="rotate(-12 432 738)"/>
<ellipse cx="436" cy="745" rx="64" ry="78" transform="rotate(-10 436 745)" stroke-width="6"/>
<path d="M392,690 Q400,668 420,676 Q428,695 412,712" fill="none" stroke-width="5"/>
<ellipse cx="552" cy="762" rx="17" ry="24" transform="rotate(25 552 762)" stroke-width="6"/>
</g>
<g stroke="#111" stroke-width="4.5" fill="none">
<line x1="118" y1="800" x2="345" y2="680"/>
<line x1="318" y1="917" x2="470" y2="838"/>
<line x1="142" y1="800" x2="335" y2="908"/>
</g>
<path d="M142,800 l28,4 l-8,12 Z M335,908 l-28,-4 l8,-12 Z" fill="#111"/>
<text x="0" y="0" font-family="Liberation Sans, sans-serif" font-size="44" fill="#222" transform="translate(190,798) rotate(29)">Ø 20 mm</text>
</g>
<g transform="translate(531.6,1319.7) scale(0.23960)">
<g stroke="#111" stroke-width="7" stroke-linejoin="round" fill="#d4e9f9">
<path d="M528,587 L664,515 L672,522 L680,508 L794,441 L831,441 Q860,448 869,463 Q882,480 884,500 L881,568 L878,571 L752,632 L746,642 L738,638 L602,723 L560,700 Z"/>
<path d="M596,646 L878,484 M602,655 L881,494" fill="none" stroke-width="4.5"/>
<path d="M727,559 l11,-12 l11,12 l-11,12 Z" stroke-width="5"/>
<ellipse cx="585" cy="660" rx="18" ry="64" transform="rotate(-15 585 660)" stroke-width="6"/>
<path d="M368,650 Q380,625 429,598 Q470,585 506,587 Q545,596 571,630 Q590,660 595,700 Q598,740 580,790 Q560,820 520,838 Q490,847 451,843 Z"/>
<ellipse cx="432" cy="738" rx="86" ry="108" transform="rotate(-12 432 738)"/>
<ellipse cx="436" cy="745" rx="64" ry="78" transform="rotate(-10 436 745)" stroke-width="6"/>
<path d="M392,690 Q400,668 420,676 Q428,695 412,712" fill="none" stroke-width="5"/>
<ellipse cx="552" cy="762" rx="17" ry="24" transform="rotate(25 552 762)" stroke-width="6"/>
</g>
<g stroke="#111" stroke-width="4.5" fill="none">
<line x1="118" y1="800" x2="345" y2="680"/>
<line x1="318" y1="917" x2="470" y2="838"/>
<line x1="142" y1="800" x2="335" y2="908"/>
</g>
<path d="M142,800 l28,4 l-8,12 Z M335,908 l-28,-4 l8,-12 Z" fill="#111"/>
<text x="0" y="0" font-family="Liberation Sans, sans-serif" font-size="44" fill="#222" transform="translate(190,798) rotate(29)">Ø 20 mm</text>
</g>
<g transform="translate(-11.5,1864) scale(0.23960)">
<g stroke="#111" stroke-width="7" stroke-linejoin="round" fill="#d4e9f9">
<path d="M528,587 L664,515 L672,522 L680,508 L794,441 L831,441 Q860,448 869,463 Q882,480 884,500 L881,568 L878,571 L752,632 L746,642 L738,638 L602,723 L560,700 Z"/>
<path d="M596,646 L878,484 M602,655 L881,494" fill="none" stroke-width="4.5"/>
<path d="M727,559 l11,-12 l11,12 l-11,12 Z" stroke-width="5"/>
<ellipse cx="585" cy="660" rx="18" ry="64" transform="rotate(-15 585 660)" stroke-width="6"/>
<path d="M368,650 Q380,625 429,598 Q470,585 506,587 Q545,596 571,630 Q590,660 595,700 Q598,740 580,790 Q560,820 520,838 Q490,847 451,843 Z"/>
<ellipse cx="432" cy="738" rx="86" ry="108" transform="rotate(-12 432 738)"/>
<ellipse cx="436" cy="745" rx="64" ry="78" transform="rotate(-10 436 745)" stroke-width="6"/>
<path d="M392,690 Q400,668 420,676 Q428,695 412,712" fill="none" stroke-width="5"/>
<ellipse cx="552" cy="762" rx="17" ry="24" transform="rotate(25 552 762)" stroke-width="6"/>
</g>
<g stroke="#111" stroke-width="4.5" fill="none">
<line x1="118" y1="800" x2="345" y2="680"/>
<line x1="318" y1="917" x2="470" y2="838"/>
<line x1="142" y1="800" x2="335" y2="908"/>
</g>
<path d="M142,800 l28,4 l-8,12 Z M335,908 l-28,-4 l8,-12 Z" fill="#111"/>
<text x="0" y="0" font-family="Liberation Sans, sans-serif" font-size="44" fill="#222" transform="translate(190,798) rotate(29)">Ø 20 mm</text>
</g>
<g transform="translate(526.2,1865.4) scale(0.23960)">
<g stroke="#111" stroke-width="7" stroke-linejoin="round" fill="#d4e9f9">
<path d="M528,587 L664,515 L672,522 L680,508 L794,441 L831,441 Q860,448 869,463 Q882,480 884,500 L881,568 L878,571 L752,632 L746,642 L738,638 L602,723 L560,700 Z"/>
<path d="M596,646 L878,484 M602,655 L881,494" fill="none" stroke-width="4.5"/>
<path d="M727,559 l11,-12 l11,12 l-11,12 Z" stroke-width="5"/>
<ellipse cx="585" cy="660" rx="18" ry="64" transform="rotate(-15 585 660)" stroke-width="6"/>
<path d="M368,650 Q380,625 429,598 Q470,585 506,587 Q545,596 571,630 Q590,660 595,700 Q598,740 580,790 Q560,820 520,838 Q490,847 451,843 Z"/>
<ellipse cx="432" cy="738" rx="86" ry="108" transform="rotate(-12 432 738)"/>
<ellipse cx="436" cy="745" rx="64" ry="78" transform="rotate(-10 436 745)" stroke-width="6"/>
<path d="M392,690 Q400,668 420,676 Q428,695 412,712" fill="none" stroke-width="5"/>
<ellipse cx="552" cy="762" rx="17" ry="24" transform="rotate(25 552 762)" stroke-width="6"/>
</g>
<g stroke="#111" stroke-width="4.5" fill="none">
<line x1="118" y1="800" x2="345" y2="680"/>
<line x1="318" y1="917" x2="470" y2="838"/>
<line x1="142" y1="800" x2="335" y2="908"/>
</g>
<path d="M142,800 l28,4 l-8,12 Z M335,908 l-28,-4 l8,-12 Z" fill="#111"/>
<text x="0" y="0" font-family="Liberation Sans, sans-serif" font-size="44" fill="#222" transform="translate(190,798) rotate(29)">Ø 20 mm</text>
</g>
<g transform="translate(243,220) scale(0.24851)"><rect x="100" y="45" width="660" height="1030" fill="#eff2f7"/>
<g stroke="#111" stroke-width="7" stroke-linejoin="round" fill="#d4e9f9">
<path d="M331,340 L562,210 L600,212 L582,402 L578,399 L578,717 L345,850 L331,845 Z"/>
<path d="M394,357 L582,236" fill="none" stroke-width="5.5"/>
<path d="M394,357 L394,600 M345,610 L345,850 M553,420 L553,717" fill="none" stroke-width="5.5"/>
<path d="M557,210 Q590,210 616,215 Q645,220 658,227 Q676,245 679,265 Q680,290 675,319 Q662,345 645,365 Q625,385 608,399 Q595,404 583,403 L562,378 Z"/>
<ellipse cx="608" cy="302" rx="22" ry="62" transform="rotate(25 608 302)" fill="#eef4fb"/>
<path d="M405,360 L580,238 M420,380 L585,268" fill="none" stroke-width="5"/>
<path d="M398,365 L440,355 L468,400 L465,500 L430,510 L400,480 Z"/>
<path d="M410,420 L455,410 M410,450 L455,445" fill="none" stroke-width="4.5"/>
<ellipse cx="511" cy="440" rx="46" ry="63" transform="rotate(15 511 440)"/>
<ellipse cx="514" cy="441" rx="35" ry="48" transform="rotate(15 514 441)"/>
<path d="M478,450 L549,420" fill="none" stroke-width="5.5"/>
<path d="M344,449 L394,452 L394,516 L350,512 Z" stroke-width="6"/>
<path d="M540,400 L565,380 L590,400 L575,430 Z" stroke-width="5.5"/>
<ellipse cx="511" cy="541" rx="14" ry="19"/>
<path d="M434,572 Q449,545 465,572 L465,615 Q449,640 434,615 Z"/>
<ellipse cx="386" cy="620" rx="14" ry="15"/>
<path d="M405,545 L430,530 L425,570 L410,580 Z" stroke-width="5.5"/>
<path d="M434,690 Q449,662 465,690 L465,752 Q449,780 434,752 Z"/>
<ellipse cx="511" cy="721" rx="16" ry="19"/>
<ellipse cx="388" cy="796" rx="14" ry="21"/>
</g>
<g stroke="#111" stroke-width="4.5" fill="none">
<line x1="340" y1="200" x2="340" y2="330"/><line x1="385" y1="230" x2="385" y2="350"/>
<line x1="430" y1="110" x2="430" y2="275"/><line x1="505" y1="150" x2="505" y2="380"/>
<line x1="310" y1="75" x2="430" y2="125"/><line x1="200" y1="160" x2="340" y2="225"/>
<line x1="385" y1="265" x2="410" y2="275"/><line x1="505" y1="185" x2="545" y2="205"/>
<line x1="220" y1="400" x2="335" y2="345"/><line x1="225" y1="400" x2="225" y2="900"/>
<line x1="220" y1="905" x2="340" y2="850"/>
<line x1="275" y1="370" x2="275" y2="640"/><line x1="270" y1="640" x2="380" y2="590"/>
<line x1="580" y1="560" x2="695" y2="540"/><line x1="580" y1="720" x2="695" y2="625"/>
<line x1="655" y1="440" x2="655" y2="560"/><line x1="655" y1="650" x2="655" y2="720"/>
<line x1="348" y1="870" x2="348" y2="1060"/><line x1="575" y1="735" x2="575" y2="930"/>
<line x1="350" y1="1050" x2="575" y2="925"/>
<line x1="265" y1="965" x2="372" y2="910"/><line x1="372" y1="800" x2="372" y2="915"/>
<line x1="405" y1="885" x2="430" y2="880"/><line x1="465" y1="890" x2="570" y2="835"/>
<line x1="465" y1="780" x2="465" y2="905"/><line x1="435" y1="800" x2="435" y2="915"/>
</g>
<text font-family="Liberation Sans, sans-serif" fill="#222" font-size="36" transform="translate(315,62) rotate(22)">18 mm</text>
<text font-family="Liberation Sans, sans-serif" fill="#222" font-size="36" transform="translate(208,148) rotate(22)">12,3 mm</text>
<text font-family="Liberation Sans, sans-serif" fill="#222" font-size="36" transform="translate(215,720) rotate(-90)">128 mm</text>
<text font-family="Liberation Sans, sans-serif" fill="#222" font-size="36" transform="translate(268,600) rotate(-90)">63 mm</text>
<text font-family="Liberation Sans, sans-serif" fill="#222" font-size="34" transform="translate(650,565) rotate(-90)">13 mm</text>
<text font-family="Liberation Sans, sans-serif" fill="#222" font-size="38" transform="translate(268,955) rotate(-22)">9 mm</text>
<text font-family="Liberation Sans, sans-serif" fill="#222" font-size="38" transform="translate(485,865) rotate(-22)">9 mm</text>
<text font-family="Liberation Sans, sans-serif" fill="#222" font-size="40" transform="translate(418,995) rotate(-22)">69 mm</text>
</g>
<g transform="translate(529,220) scale(0.24552)"><rect x="105" y="1080" width="710" height="40" fill="#eef0f6"/>
<g stroke="#111" stroke-width="8" stroke-linejoin="round" fill="#d4e9f9">
<path d="M203,558 L252,561 L318,580 L315,595 L330,567 Q345,553 367,549 Q390,545 409,546 Q435,550 457,561 Q485,576 506,598 Q527,615 542,634 Q556,655 566,676 L584,695 L633,707 L651,731 L675,749 Q690,770 693,791 L687,852 Q677,880 663,906 L645,912 L590,888 L584,876 L530,852 L518,834 L500,815 Q490,785 488,755 Q482,730 476,707 Q465,690 451,682 Q440,676 427,676 Q415,680 409,688 Q400,700 397,719 L397,755 L379,767 L361,767 L349,779 L270,755 L258,743 L215,731 Q204,700 200,670 Q195,640 194,610 Z" stroke-width="6"/>
<path d="M252,564 Q262,660 261,755" fill="none" stroke-width="4.5"/>
<path d="M603,700 Q630,800 645,912" fill="none" stroke-width="4.5"/>
<path d="M336,575 Q390,552 450,566 Q520,590 560,678" fill="none" stroke-width="4.5"/>
<ellipse cx="233" cy="664" rx="22" ry="31" stroke-width="6"/>
<ellipse cx="324" cy="685" rx="30" ry="36" stroke-width="6"/><ellipse cx="330" cy="690" rx="15" ry="21" fill="none" stroke-width="4"/>
<ellipse cx="548" cy="776" rx="30" ry="36" stroke-width="6"/><ellipse cx="554" cy="781" rx="15" ry="21" fill="none" stroke-width="4"/>
<ellipse cx="618" cy="818" rx="18" ry="27" stroke-width="6"/>
</g>
<g stroke="#111" stroke-width="5" fill="none">
<line x1="250" y1="350" x2="250" y2="640"/><line x1="610" y1="470" x2="610" y2="790"/>
<line x1="255" y1="370" x2="605" y2="490"/>
<line x1="330" y1="450" x2="330" y2="660"/><line x1="550" y1="530" x2="550" y2="750"/>
<line x1="335" y1="475" x2="548" y2="545"/>
<line x1="150" y1="540" x2="210" y2="570"/><line x1="150" y1="690" x2="210" y2="715"/>
<line x1="175" y1="560" x2="175" y2="695"/>
<line x1="262" y1="760" x2="330" y2="850"/><line x1="330" y1="850" x2="435" y2="880"/>
<line x1="690" y1="800" x2="910" y2="865"/><line x1="690" y1="850" x2="880" y2="912"/>
<line x1="880" y1="850" x2="965" y2="780"/><line x1="750" y1="975" x2="830" y2="905"/>
</g>
<text font-family="Liberation Sans, sans-serif" fill="#222" font-size="52" transform="translate(355,395) rotate(16)">48 mm</text>
<text font-family="Liberation Sans, sans-serif" fill="#222" font-size="52" transform="translate(378,480) rotate(16)">29 mm</text>
<text font-family="Liberation Sans, sans-serif" fill="#222" font-size="50" transform="translate(130,680) rotate(-90)">20 mm</text>
<text font-family="Liberation Sans, sans-serif" fill="#222" font-size="50" font-style="italic" transform="translate(340,840) rotate(16)">M 6</text>
<text font-family="Liberation Sans, sans-serif" fill="#222" font-size="52" font-style="italic" transform="translate(765,860) rotate(16)">9 mm</text>
</g>
<g transform="translate(778,220) scale(0.22973)"><rect x="215" y="270" width="740" height="835" fill="#eff2f7"/>
<rect x="95" y="1165" width="75" height="35" fill="#eef1f6"/><rect x="170" y="1185" width="700" height="12" fill="#f0f2f6"/>
<g stroke="#111" stroke-width="7" stroke-linejoin="round" fill="#d4e9f9">
<path d="M369,625 Q380,570 402,530 Q430,470 475,418 Q520,365 576,328 Q620,305 671,300 Q720,305 755,323 Q790,342 817,373 L856,424 Q872,450 879,497 Q872,540 851,575 L828,620 Q800,670 772,709 Q740,750 694,782 Q650,815 604,838 Q560,860 520,872 L459,866 Q420,840 391,805 L369,766 Z"/>
<path d="M442,653 Q465,560 503,485 Q540,425 587,390 Q620,360 660,340" fill="none" stroke-width="5.5"/>
<path d="M369,625 L442,653 L470,650 L470,795 L391,805" fill="none" stroke-width="5.5"/>
<path d="M408,660 L465,655 L468,790 L412,795 Z" stroke-width="6"/>
<path d="M783,446 L860,440 L867,560 L790,572 Z" stroke-width="6"/>
<path d="M560,500 Q600,480 650,490 Q700,495 730,530 Q760,580 745,640 Q730,690 690,720 Q640,745 590,735 Q540,720 515,680 Q495,640 510,580 Q525,525 560,500 Z"/>
<path d="M587,345 L655,335 L660,455 L592,462 Z" stroke-width="5.5"/>
<path d="M548,726 L652,720 L655,827 L552,835 Z" stroke-width="5.5"/>
<path d="M654,334 L727,330 L727,412 L660,415 Z" stroke-width="5.5"/><ellipse cx="690" cy="372" rx="22" ry="30" fill="none" stroke-width="4.5"/>
<path d="M520,401 L587,398 L590,485 L525,487 Z" stroke-width="5.5"/><ellipse cx="555" cy="443" rx="20" ry="28" fill="none" stroke-width="4.5"/>
<path d="M654,720 L722,712 L722,810 L658,815 Z" stroke-width="5.5"/><ellipse cx="688" cy="765" rx="20" ry="28" fill="none" stroke-width="4.5"/>
<path d="M520,777 L587,772 L587,861 L525,865 Z" stroke-width="5.5"/><ellipse cx="553" cy="818" rx="20" ry="28" fill="none" stroke-width="4.5"/>
<path d="M727,470 L780,455 L790,540 L740,560 Z" stroke-width="5.5"/>
<path d="M745,640 L800,620 L800,700 L740,700 Z" stroke-width="5.5"/>
<ellipse cx="694" cy="547" rx="31" ry="42" stroke-width="6"/><ellipse cx="697" cy="550" rx="18" ry="28" fill="none" stroke-width="4.5"/>
<ellipse cx="515" cy="648" rx="31" ry="40" stroke-width="6"/><ellipse cx="518" cy="651" rx="18" ry="26" fill="none" stroke-width="4.5"/>
<ellipse cx="604" cy="502" rx="18" ry="22" stroke-width="5.5"/><ellipse cx="604" cy="687" rx="18" ry="22" stroke-width="5.5"/>
<path d="M604,560 L630,548 L640,520 L648,575 L640,640 L615,655 L575,640 L570,600 Z" fill="#fff" stroke-width="5.5"/>
<ellipse cx="783" cy="390" rx="22" ry="26" stroke-width="5.5"/>
<ellipse cx="480" cy="575" rx="18" ry="25" stroke-width="5"/><ellipse cx="790" cy="650" rx="16" ry="22" stroke-width="5"/>
</g>
<g stroke="#111" stroke-width="4.5" fill="none">
<line x1="300" y1="490" x2="560" y2="340"/><line x1="300" y1="1010" x2="530" y2="880"/>
<line x1="318" y1="495" x2="318" y2="1000"/>
<line x1="470" y1="620" x2="470" y2="1065"/><line x1="785" y1="530" x2="785" y2="915"/>
<line x1="475" y1="1050" x2="780" y2="885"/>
</g>
<text font-family="Liberation Sans, sans-serif" fill="#222" font-size="34" transform="translate(295,835) rotate(-90)">Ø 74 mm</text>
<text font-family="Liberation Sans, sans-serif" fill="#222" font-size="38" transform="translate(568,990) rotate(-22)">60,4 mm</text>
</g>
<rect x="40" y="825" width="94" height="4" fill="#eef1f6"/>
<g transform="translate(0,766) scale(0.18811)">
<g stroke="#111" stroke-width="8" stroke-linejoin="round" stroke-linecap="round" fill="none">
<path d="M485,882 L110,575 Q60,520 85,475 Q115,445 150,480 L225,610 Q250,640 300,655 Q340,675 380,740 Q410,760 440,745" stroke-width="26"/>
</g>
<g stroke="#d4e9f9" stroke-linejoin="round" stroke-linecap="round" fill="none">
<path d="M485,882 L110,575 Q60,520 85,475 Q115,445 150,480 L225,610 Q250,640 300,655 Q340,675 380,740 Q410,760 440,745" stroke-width="14"/>
</g>
<g stroke="#111" stroke-width="7" fill="#d4e9f9">
<ellipse cx="440" cy="745" rx="10" ry="13"/><ellipse cx="485" cy="882" rx="10" ry="13"/>
</g>

<g stroke="#111" stroke-width="8" stroke-linejoin="round" fill="#d4e9f9">
<path d="M560,852 L880,615 Q945,605 955,655 L950,735 Q945,760 925,770 L640,995 L600,1005 L555,975 Z"/>
<path d="M565,852 L640,826 L640,995" fill="none" stroke-width="6.5"/>
<path d="M640,826 L900,628" fill="none" stroke-width="5.5"/>
<path d="M640,880 L952,680" fill="none" stroke-width="5.5"/>
<path d="M650,860 l10,18 l12,-8 M820,740 l10,18 l12,-8 M700,962 l-8,-18 l14,-6 M860,840 l-8,-18 l14,-6" fill="none" stroke-width="5"/>
<path d="M815,765 l10,-20 l10,20 l-10,20 Z" stroke-width="5.5"/>
<ellipse cx="578" cy="942" rx="40" ry="58"/>
<ellipse cx="582" cy="944" rx="30" ry="48" fill="none" stroke-width="4.5"/>
</g>
<g stroke="#111" stroke-width="5" fill="none">
<line x1="360" y1="1005" x2="420" y2="1058"/><line x1="420" y1="1055" x2="530" y2="975"/>
<line x1="485" y1="1125" x2="625" y2="1012"/><line x1="505" y1="1120" x2="695" y2="1268"/>
</g>
<text font-family="Liberation Sans, sans-serif" fill="#222" font-size="48" transform="translate(545,1125) rotate(38)">&#9633; 10 mm</text>
</g>
<g transform="matrix(0.2384,-0.0240,-0.0148,0.1911,519.83,786.99)">
<g stroke="#111" stroke-width="8" stroke-linejoin="round" stroke-linecap="round" fill="none">
<path d="M485,882 L110,575 Q60,520 85,475 Q115,445 150,480 L225,610 Q250,640 300,655 Q340,675 380,740 Q410,760 440,745" stroke-width="26"/>
</g>
<g stroke="#d4e9f9" stroke-linejoin="round" stroke-linecap="round" fill="none">
<path d="M485,882 L110,575 Q60,520 85,475 Q115,445 150,480 L225,610 Q250,640 300,655 Q340,675 380,740 Q410,760 440,745" stroke-width="14"/>
</g>
<g stroke="#111" stroke-width="7" fill="#d4e9f9">
<ellipse cx="440" cy="745" rx="10" ry="13"/><ellipse cx="485" cy="882" rx="10" ry="13"/>
</g>
</g>
<g transform="matrix(0.2329,0.01794,0.01525,0.17963,494.13,773.02)">
<g stroke="#111" stroke-width="8" stroke-linejoin="round" fill="#d4e9f9">
<path d="M560,852 L880,615 Q945,605 955,655 L950,735 Q945,760 925,770 L640,995 L600,1005 L555,975 Z"/>
<path d="M565,852 L640,826 L640,995" fill="none" stroke-width="6.5"/>
<path d="M640,826 L900,628" fill="none" stroke-width="5.5"/>
<path d="M640,880 L952,680" fill="none" stroke-width="5.5"/>
<path d="M650,860 l10,18 l12,-8 M820,740 l10,18 l12,-8 M700,962 l-8,-18 l14,-6 M860,840 l-8,-18 l14,-6" fill="none" stroke-width="5"/>
<path d="M815,765 l10,-20 l10,20 l-10,20 Z" stroke-width="5.5"/>
<ellipse cx="578" cy="942" rx="40" ry="58"/>
<ellipse cx="582" cy="944" rx="30" ry="48" fill="none" stroke-width="4.5"/>
</g>
<g stroke="#111" stroke-width="5" fill="none">
<line x1="360" y1="1005" x2="420" y2="1058"/><line x1="420" y1="1055" x2="530" y2="975"/>
<line x1="485" y1="1125" x2="625" y2="1012"/><line x1="505" y1="1120" x2="695" y2="1268"/>
</g>
<text font-family="Liberation Sans, sans-serif" fill="#222" font-size="48" transform="translate(545,1125) rotate(38)">&#9633; 10 mm</text>
</g>
<g transform="translate(192,766) scale(0.24160)"><rect x="108" y="245" width="722" height="880" fill="#eff2f7"/>
<g stroke="#111" stroke-width="7" stroke-linejoin="round" fill="#d4e9f9">
<path d="M330,590 L410,555 L410,800 L350,832 Q300,790 300,700 Q303,630 330,590 Z"/>
<path d="M410,555 L480,548 Q530,540 600,495 L600,440 Q612,418 650,405 L660,470 L660,650 Q600,700 520,775 Q470,812 430,802 L410,800 Z"/>
<path d="M650,405 L690,390 Q722,400 732,470 L730,590 Q720,625 690,650 L660,650 L660,470 Z"/>
<path d="M430,575 L430,802" fill="none"/>
<ellipse cx="366" cy="712" rx="18" ry="25"/><ellipse cx="690" cy="525" rx="18" ry="25"/>
<path d="M575,595 L590,618 L620,610 L608,640 L625,665 L595,668 L580,700 L565,675 L535,680 L548,650 L530,625 L560,622 Z"/>
</g>
<g stroke="#111" stroke-width="4.5" fill="none">
<line x1="490" y1="310" x2="490" y2="495"/><line x1="560" y1="350" x2="560" y2="500"/>
<line x1="378" y1="285" x2="490" y2="340"/><line x1="410" y1="545" x2="600" y2="440" stroke-dasharray="14,8"/>
<line x1="330" y1="835" x2="330" y2="1100"/><line x1="370" y1="825" x2="370" y2="1000"/>
<line x1="690" y1="650" x2="690" y2="815"/><line x1="730" y1="570" x2="730" y2="875"/>
<line x1="372" y1="985" x2="690" y2="808"/><line x1="332" y1="1085" x2="730" y2="862"/>
<line x1="205" y1="735" x2="300" y2="690"/>
</g>
<text font-family="Liberation Sans, sans-serif" fill="#222" font-size="38" transform="translate(388,265) rotate(25)">11 mm</text>
<text font-family="Liberation Sans, sans-serif" fill="#222" font-size="40" transform="translate(488,905) rotate(-27)">48 mm</text>
<text font-family="Liberation Sans, sans-serif" fill="#222" font-size="40" transform="translate(510,975) rotate(-27)">60 mm</text>
<text font-family="Liberation Sans, sans-serif" fill="#222" font-size="38" transform="translate(220,712) rotate(-20)">M6</text>
</g>
<g transform="translate(760,770) scale(0.24752)"><g stroke="#111" stroke-width="7" stroke-linejoin="round" fill="#d4e9f9">
<path d="M345,550 L490,480 L490,720 L360,790 Q322,760 320,680 Q322,590 345,550 Z"/>
<path d="M490,480 L515,468 Q575,488 615,468 L690,420 L690,368 Q702,352 722,360 L740,345 L740,590 Q665,628 600,690 Q560,722 512,715 L490,720 Z"/>
<path d="M740,345 L830,280 Q872,292 880,370 L872,450 Q860,515 840,545 L740,590 Z"/>
<path d="M510,470 L510,715" fill="none"/>
<path d="M375,690 L455,600 Q475,590 470,625 L390,700 Q365,715 375,690 Z"/>
<path d="M760,470 L835,385 Q858,375 852,410 L775,480 Q750,495 760,470 Z"/>
<path d="M620,540 L690,505 L690,590 L620,625 Z"/>
<path d="M632,548 L680,525 L680,582 L632,608 Z" fill="none" stroke-width="4.5"/>
</g>
<g stroke="#111" stroke-width="4.5" fill="none">
<line x1="340" y1="700" x2="340" y2="1082"/><line x1="385" y1="620" x2="385" y2="978"/>
<line x1="455" y1="590" x2="455" y2="872"/><line x1="770" y1="410" x2="770" y2="692"/>
<line x1="835" y1="380" x2="835" y2="722"/><line x1="880" y1="440" x2="880" y2="782"/>
<line x1="455" y1="855" x2="770" y2="685"/><line x1="390" y1="965" x2="835" y2="715"/>
<line x1="340" y1="1065" x2="880" y2="765"/>
<line x1="210" y1="630" x2="345" y2="560"/><line x1="210" y1="850" x2="330" y2="782"/>
<line x1="212" y1="630" x2="212" y2="850"/><line x1="272" y1="598" x2="272" y2="700"/><line x1="275" y1="760" x2="275" y2="802"/>
<line x1="245" y1="700" x2="340" y2="650"/><line x1="260" y1="760" x2="340" y2="720"/>
<line x1="400" y1="385" x2="400" y2="512"/><line x1="430" y1="400" x2="430" y2="530"/>
<line x1="300" y1="370" x2="400" y2="412"/><line x1="430" y1="435" x2="470" y2="455"/>
<line x1="580" y1="225" x2="580" y2="412"/><line x1="650" y1="268" x2="650" y2="452"/>
<line x1="470" y1="200" x2="580" y2="262"/><line x1="655" y1="310" x2="690" y2="325"/>
<line x1="430" y1="470" x2="680" y2="360" stroke-dasharray="14,8"/>
</g>
<text font-family="Liberation Sans, sans-serif" fill="#222" font-size="38" transform="translate(480,185) rotate(25)">11 mm</text>
<text font-family="Liberation Sans, sans-serif" fill="#222" font-size="38" transform="translate(305,345) rotate(25)">4 mm</text>
<text font-family="Liberation Sans, sans-serif" fill="#222" font-size="40" transform="translate(548,795) rotate(-27)">48 mm</text>
<text font-family="Liberation Sans, sans-serif" fill="#222" font-size="40" transform="translate(552,860) rotate(-27)">68 mm</text>
<text font-family="Liberation Sans, sans-serif" fill="#222" font-size="40" transform="translate(565,930) rotate(-27)">82 mm</text>
<text font-family="Liberation Sans, sans-serif" fill="#222" font-size="38" transform="translate(200,810) rotate(-90)">30 mm</text>
<text font-family="Liberation Sans, sans-serif" fill="#222" font-size="34" transform="translate(262,718) rotate(-90)">6,5 mm</text>
</g>
<rect x="257.5" y="1370" width="189.6" height="224.5" fill="#eff2f7"/>
<g transform="translate(329.8,1391.1) scale(0.24950,0.24950) translate(-380,-285)">
<g stroke="#111" stroke-width="4.8" stroke-linejoin="round" fill="#d4e9f9">
<circle cx="612" cy="453" r="28"/><circle cx="612" cy="453" r="15" fill="#fff"/>
<path d="M466,286 L555,314 L573,332 L591,421 L612,470 L630,493 L626,618 L598,689 L605,778 L587,850 L555,921 L519,946 L423,910 L412,885 L376,689 L373,582 L384,457 L401,386 L430,314 Z"/>
<path d="M555,314 L469,489 L473,618 L487,785 L519,946" fill="none"/>
<path d="M426,339 L509,364 M398,428 L476,453 M387,475 L466,500 M376,596 L473,621 M380,757 L484,782 M419,903 L512,928" fill="none" stroke-width="5.5"/>
<path d="M469,618 L569,510 L623,489 L630,632 L587,718 L487,778 Z"/>
<path d="M480,560 L500,510 L560,495" fill="none" stroke-width="5.5"/>
<path d="M500,770 L520,820 L575,800" fill="none" stroke-width="5.5"/>
<ellipse cx="548" cy="639" rx="52" ry="95" transform="rotate(22 548 639)"/>
<path d="M576,571 Q595,580 585,600 L515,665 Q495,670 500,650 Z" stroke-width="5.5"/>
<circle cx="405" cy="707" r="32"/><circle cx="405" cy="707" r="18"/><circle cx="405" cy="707" r="9" fill="none" stroke-width="4.5"/>
<ellipse cx="534" cy="382" rx="15" ry="19"/><ellipse cx="505" cy="464" rx="15" ry="19"/>
<ellipse cx="566" cy="789" rx="15" ry="19"/><ellipse cx="534" cy="878" rx="15" ry="19"/>
</g>
<g stroke="#111" stroke-width="3.8" fill="none">
<line x1="537" y1="342" x2="537" y2="420"/><line x1="507" y1="424" x2="507" y2="502"/>
<line x1="570" y1="750" x2="570" y2="828"/><line x1="537" y1="840" x2="537" y2="918"/>
<line x1="555" y1="372" x2="815" y2="230"/><line x1="525" y1="458" x2="750" y2="330"/>
<line x1="585" y1="785" x2="750" y2="690"/><line x1="550" y1="875" x2="810" y2="725"/>
<line x1="805" y1="240" x2="805" y2="725"/><line x1="745" y1="340" x2="745" y2="690"/>
<line x1="130" y1="745" x2="200" y2="792"/><line x1="185" y1="790" x2="390" y2="690"/>
<line x1="250" y1="832" x2="440" y2="740"/><line x1="280" y1="832" x2="345" y2="868"/>
<line x1="400" y1="1052" x2="490" y2="1010"/><line x1="490" y1="1010" x2="525" y2="945"/>
</g>
<text font-family="Liberation Sans, sans-serif" fill="#222" font-size="40" transform="translate(735,590) rotate(-90)">48 mm</text>
<text font-family="Liberation Sans, sans-serif" fill="#222" font-size="40" transform="translate(795,570) rotate(-90)">60 mm</text>
<text font-family="Liberation Sans, sans-serif" fill="#222" font-size="38" transform="translate(215,822) rotate(-25)">11,5 mm</text>
<text font-family="Liberation Sans, sans-serif" fill="#222" font-size="38" transform="translate(412,1030) rotate(-25)">M6</text>
</g>
<rect x="798" y="1372" width="152" height="7" fill="#f1f3f7"/><rect x="798" y="1372" width="6" height="224" fill="#f1f3f7"/>
<g transform="translate(880.3,1394.1) scale(0.27030,0.25590) translate(-380,-285)">
<g stroke="#111" stroke-width="4.8" stroke-linejoin="round" fill="#d4e9f9">
<circle cx="612" cy="453" r="28"/><circle cx="612" cy="453" r="15" fill="#fff"/>
<path d="M466,286 L555,314 L573,332 L591,421 L612,470 L630,493 L626,618 L598,689 L605,778 L587,850 L555,921 L519,946 L423,910 L412,885 L376,689 L373,582 L384,457 L401,386 L430,314 Z"/>
<path d="M555,314 L469,489 L473,618 L487,785 L519,946" fill="none"/>
<path d="M426,339 L509,364 M398,428 L476,453 M387,475 L466,500 M376,596 L473,621 M380,757 L484,782 M419,903 L512,928" fill="none" stroke-width="5.5"/>
<path d="M469,618 L569,510 L623,489 L630,632 L587,718 L487,778 Z"/>
<path d="M480,560 L500,510 L560,495" fill="none" stroke-width="5.5"/>
<path d="M500,770 L520,820 L575,800" fill="none" stroke-width="5.5"/>
<ellipse cx="548" cy="639" rx="52" ry="95" transform="rotate(22 548 639)"/>
<path d="M576,571 Q595,580 585,600 L515,665 Q495,670 500,650 Z" stroke-width="5.5"/>
<circle cx="405" cy="707" r="32"/><circle cx="405" cy="707" r="18"/><circle cx="405" cy="707" r="9" fill="none" stroke-width="4.5"/>
<ellipse cx="534" cy="382" rx="15" ry="19"/><ellipse cx="505" cy="464" rx="15" ry="19"/>
<ellipse cx="566" cy="789" rx="15" ry="19"/><ellipse cx="534" cy="878" rx="15" ry="19"/>
</g>
<g stroke="#111" stroke-width="3.8" fill="none">
<line x1="537" y1="342" x2="537" y2="420"/><line x1="507" y1="424" x2="507" y2="502"/>
<line x1="570" y1="750" x2="570" y2="828"/><line x1="537" y1="840" x2="537" y2="918"/>
<line x1="555" y1="372" x2="815" y2="230"/><line x1="525" y1="458" x2="750" y2="330"/>
<line x1="585" y1="785" x2="750" y2="690"/><line x1="550" y1="875" x2="810" y2="725"/>
<line x1="805" y1="240" x2="805" y2="725"/><line x1="745" y1="340" x2="745" y2="690"/>
<line x1="130" y1="745" x2="200" y2="792"/><line x1="185" y1="790" x2="390" y2="690"/>
<line x1="250" y1="832" x2="440" y2="740"/><line x1="280" y1="832" x2="345" y2="868"/>
<line x1="400" y1="1052" x2="490" y2="1010"/><line x1="490" y1="1010" x2="525" y2="945"/>
</g>
<text font-family="Liberation Sans, sans-serif" fill="#222" font-size="40" transform="translate(735,590) rotate(-90)">48 mm</text>
<text font-family="Liberation Sans, sans-serif" fill="#222" font-size="40" transform="translate(795,570) rotate(-90)">60 mm</text>
<text font-family="Liberation Sans, sans-serif" fill="#222" font-size="38" transform="translate(215,822) rotate(-25)">11,5 mm</text>
<text font-family="Liberation Sans, sans-serif" fill="#222" font-size="38" transform="translate(412,1030) rotate(-25)">M6</text>
</g>
<rect x="255.4" y="1916.2" width="162.8" height="6" fill="#f1f3f7"/><rect x="255.4" y="1916.2" width="5" height="224" fill="#f1f3f7"/>
<g transform="translate(339.9,1947.3) scale(0.26320,0.25610) translate(-380,-285)">
<g stroke="#111" stroke-width="4.8" stroke-linejoin="round" fill="#d4e9f9">
<circle cx="612" cy="453" r="28"/><circle cx="612" cy="453" r="15" fill="#fff"/>
<path d="M466,286 L555,314 L573,332 L591,421 L612,470 L630,493 L626,618 L598,689 L605,778 L587,850 L555,921 L519,946 L423,910 L412,885 L376,689 L373,582 L384,457 L401,386 L430,314 Z"/>
<path d="M555,314 L469,489 L473,618 L487,785 L519,946" fill="none"/>
<path d="M426,339 L509,364 M398,428 L476,453 M387,475 L466,500 M376,596 L473,621 M380,757 L484,782 M419,903 L512,928" fill="none" stroke-width="5.5"/>
<path d="M469,618 L569,510 L623,489 L630,632 L587,718 L487,778 Z"/>
<path d="M480,560 L500,510 L560,495" fill="none" stroke-width="5.5"/>
<path d="M500,770 L520,820 L575,800" fill="none" stroke-width="5.5"/>
<ellipse cx="548" cy="639" rx="52" ry="95" transform="rotate(22 548 639)"/>
<path d="M576,571 Q595,580 585,600 L515,665 Q495,670 500,650 Z" stroke-width="5.5"/>
<circle cx="405" cy="707" r="32"/><circle cx="405" cy="707" r="18"/><circle cx="405" cy="707" r="9" fill="none" stroke-width="4.5"/>
<ellipse cx="534" cy="382" rx="15" ry="19"/><ellipse cx="505" cy="464" rx="15" ry="19"/>
<ellipse cx="566" cy="789" rx="15" ry="19"/><ellipse cx="534" cy="878" rx="15" ry="19"/>
</g>
<g stroke="#111" stroke-width="3.8" fill="none">
<line x1="537" y1="342" x2="537" y2="420"/><line x1="507" y1="424" x2="507" y2="502"/>
<line x1="570" y1="750" x2="570" y2="828"/><line x1="537" y1="840" x2="537" y2="918"/>
<line x1="555" y1="372" x2="815" y2="230"/><line x1="525" y1="458" x2="750" y2="330"/>
<line x1="585" y1="785" x2="750" y2="690"/><line x1="550" y1="875" x2="810" y2="725"/>
<line x1="805" y1="240" x2="805" y2="725"/><line x1="745" y1="340" x2="745" y2="690"/>
<line x1="130" y1="745" x2="200" y2="792"/><line x1="185" y1="790" x2="390" y2="690"/>
<line x1="250" y1="832" x2="440" y2="740"/><line x1="280" y1="832" x2="345" y2="868"/>
<line x1="400" y1="1052" x2="490" y2="1010"/><line x1="490" y1="1010" x2="525" y2="945"/>
</g>
<text font-family="Liberation Sans, sans-serif" fill="#222" font-size="40" transform="translate(735,590) rotate(-90)">48 mm</text>
<text font-family="Liberation Sans, sans-serif" fill="#222" font-size="40" transform="translate(795,570) rotate(-90)">60 mm</text>
<text font-family="Liberation Sans, sans-serif" fill="#222" font-size="38" transform="translate(215,822) rotate(-25)">11,5 mm</text>
<text font-family="Liberation Sans, sans-serif" fill="#222" font-size="38" transform="translate(412,1030) rotate(-25)">M8</text>
</g>
<path d="M774.5,1936 L824,1936 L824,1949 L797,1949 L797,2127 L824,2127 L824,2138.5 L774.5,2138.5 Z" fill="#e9edf5"/>
<path d="M967.4,1936 L1010,1936 L1010,2138.5 L967.4,2138.5 L967.4,2127 L993.4,2127 L993.4,1949 L967.4,1949 Z" fill="#e9edf5"/>
<g transform="translate(844.4,1938.5) scale(0.26120,0.24830) translate(-380,-285)">
<g stroke="#111" stroke-width="4.8" stroke-linejoin="round" fill="#d4e9f9">
<circle cx="612" cy="453" r="28"/><circle cx="612" cy="453" r="15" fill="#fff"/>
<path d="M466,286 L555,314 L573,332 L591,421 L612,470 L630,493 L626,618 L598,689 L605,778 L587,850 L555,921 L519,946 L423,910 L412,885 L376,689 L373,582 L384,457 L401,386 L430,314 Z"/>
<path d="M555,314 L469,489 L473,618 L487,785 L519,946" fill="none"/>
<path d="M426,339 L509,364 M398,428 L476,453 M387,475 L466,500 M376,596 L473,621 M380,757 L484,782 M419,903 L512,928" fill="none" stroke-width="5.5"/>
<path d="M469,618 L569,510 L623,489 L630,632 L587,718 L487,778 Z"/>
<path d="M480,560 L500,510 L560,495" fill="none" stroke-width="5.5"/>
<path d="M500,770 L520,820 L575,800" fill="none" stroke-width="5.5"/>
<ellipse cx="548" cy="639" rx="52" ry="95" transform="rotate(22 548 639)"/>
<path d="M576,571 Q595,580 585,600 L515,665 Q495,670 500,650 Z" stroke-width="5.5"/>
<circle cx="405" cy="707" r="32"/><circle cx="405" cy="707" r="18"/><circle cx="405" cy="707" r="9" fill="none" stroke-width="4.5"/>
<ellipse cx="534" cy="382" rx="15" ry="19"/><ellipse cx="505" cy="464" rx="15" ry="19"/>
<ellipse cx="566" cy="789" rx="15" ry="19"/><ellipse cx="534" cy="878" rx="15" ry="19"/>
</g>
<g stroke="#111" stroke-width="3.8" fill="none">
<line x1="537" y1="342" x2="537" y2="420"/><line x1="507" y1="424" x2="507" y2="502"/>
<line x1="570" y1="750" x2="570" y2="828"/><line x1="537" y1="840" x2="537" y2="918"/>
<line x1="555" y1="372" x2="815" y2="230"/><line x1="525" y1="458" x2="750" y2="330"/>
<line x1="585" y1="785" x2="750" y2="690"/><line x1="550" y1="875" x2="810" y2="725"/>
<line x1="805" y1="240" x2="805" y2="725"/><line x1="745" y1="340" x2="745" y2="690"/>
<line x1="130" y1="745" x2="200" y2="792"/><line x1="185" y1="790" x2="390" y2="690"/>
<line x1="250" y1="832" x2="440" y2="740"/><line x1="280" y1="832" x2="345" y2="868"/>
<line x1="400" y1="1052" x2="490" y2="1010"/><line x1="490" y1="1010" x2="525" y2="945"/>
</g>
<text font-family="Liberation Sans, sans-serif" fill="#222" font-size="40" transform="translate(735,590) rotate(-90)">48 mm</text>
<text font-family="Liberation Sans, sans-serif" fill="#222" font-size="40" transform="translate(795,570) rotate(-90)">60 mm</text>
<text font-family="Liberation Sans, sans-serif" fill="#222" font-size="38" transform="translate(215,822) rotate(-25)">11,5 mm</text>
<text font-family="Liberation Sans, sans-serif" fill="#222" font-size="38" transform="translate(412,1030) rotate(-25)">M8</text>
</g>
<defs><clipPath id="lgTB"><path d="M770.5,2233.3 L736.42,2199.2200000000003 L804.58,2199.2200000000003 Z M770.5,2233.3 L736.42,2267.38 L804.58,2267.38 Z"/></clipPath><clipPath id="lgLR"><path d="M770.5,2233.3 L736.42,2199.2200000000003 L736.42,2267.38 Z M770.5,2233.3 L804.58,2199.2200000000003 L804.58,2267.38 Z"/></clipPath><clipPath id="lgC"><circle cx="770.5" cy="2233.3" r="27.799999999999997"/></clipPath></defs><circle cx="770.5" cy="2233.3" r="28.4" fill="#17599b"/><g clip-path="url(#lgC)"><g clip-path="url(#lgTB)" fill="none" stroke="#fff" stroke-width="1.5"><circle cx="770.5" cy="2233.3" r="7.80"/><circle cx="770.5" cy="2233.3" r="10.90"/><circle cx="770.5" cy="2233.3" r="14.00"/><circle cx="770.5" cy="2233.3" r="17.10"/><circle cx="770.5" cy="2233.3" r="20.20"/><circle cx="770.5" cy="2233.3" r="23.30"/><circle cx="770.5" cy="2233.3" r="26.40"/></g><g clip-path="url(#lgLR)"><rect x="742.10" y="2204.9" width="2.3" height="56.8" fill="#fff"/><rect x="745.40" y="2204.9" width="2.3" height="56.8" fill="#fff"/><rect x="748.70" y="2204.9" width="2.3" height="56.8" fill="#fff"/><rect x="752.00" y="2204.9" width="2.3" height="56.8" fill="#fff"/><rect x="755.30" y="2204.9" width="2.3" height="56.8" fill="#fff"/><rect x="758.60" y="2204.9" width="2.3" height="56.8" fill="#fff"/><rect x="761.90" y="2204.9" width="2.3" height="56.8" fill="#fff"/><rect x="765.20" y="2204.9" width="2.3" height="56.8" fill="#fff"/><rect x="775.10" y="2204.9" width="2.3" height="56.8" fill="#fff"/><rect x="778.40" y="2204.9" width="2.3" height="56.8" fill="#fff"/><rect x="781.70" y="2204.9" width="2.3" height="56.8" fill="#fff"/><rect x="785.00" y="2204.9" width="2.3" height="56.8" fill="#fff"/><rect x="788.30" y="2204.9" width="2.3" height="56.8" fill="#fff"/><rect x="791.60" y="2204.9" width="2.3" height="56.8" fill="#fff"/><rect x="794.90" y="2204.9" width="2.3" height="56.8" fill="#fff"/><rect x="798.20" y="2204.9" width="2.3" height="56.8" fill="#fff"/><g fill="none" stroke="#17599b" stroke-width="1.2"><circle cx="770.5" cy="2233.3" r="5.00"/><circle cx="770.5" cy="2233.3" r="8.10"/><circle cx="770.5" cy="2233.3" r="11.20"/><circle cx="770.5" cy="2233.3" r="14.30"/><circle cx="770.5" cy="2233.3" r="17.40"/><circle cx="770.5" cy="2233.3" r="20.50"/><circle cx="770.5" cy="2233.3" r="23.60"/><circle cx="770.5" cy="2233.3" r="26.70"/></g></g><g stroke="#17599b" stroke-width="3.6"><line x1="742.1" y1="2204.9" x2="798.9" y2="2261.7000000000003"/><line x1="742.1" y1="2261.7000000000003" x2="798.9" y2="2204.9"/></g><circle cx="770.5" cy="2233.3" r="3.5" fill="#17599b"/></g>
</svg>
</body></html>
